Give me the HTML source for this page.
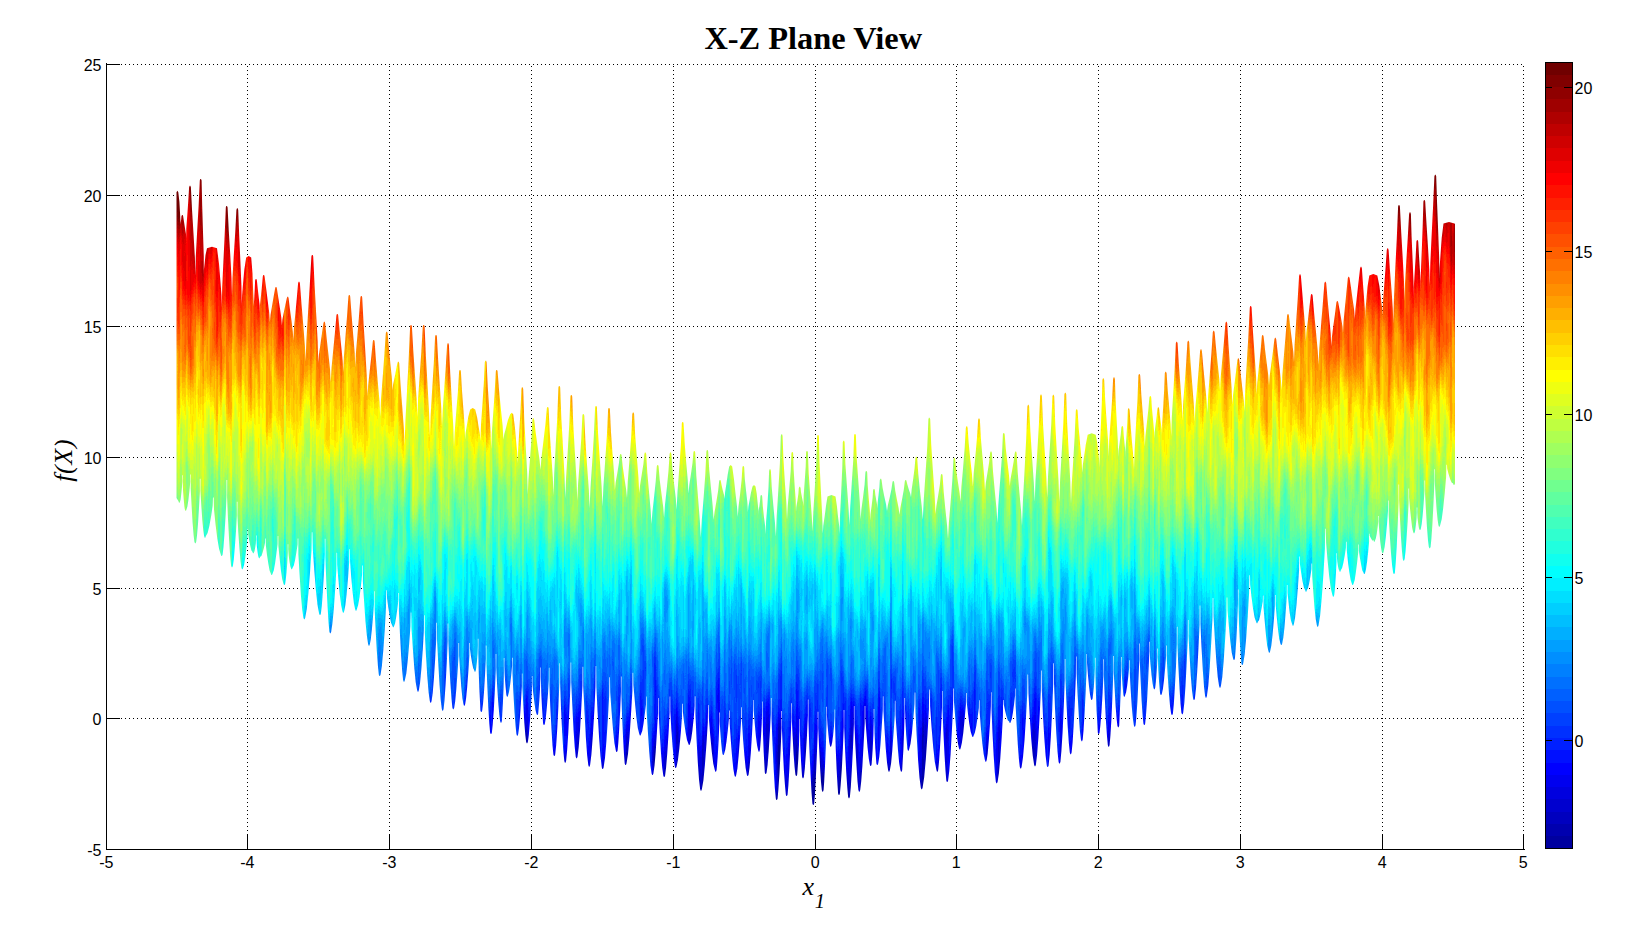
<!DOCTYPE html>
<html><head><meta charset="utf-8"><title>X-Z Plane View</title>
<style>
html,body{margin:0;padding:0;background:#fff;}
body{width:1632px;height:945px;overflow:hidden;position:relative;font-family:"Liberation Sans",sans-serif;}
svg{position:absolute;left:0;top:0;display:block;}
.tk{font-family:"Liberation Sans",sans-serif;font-size:16px;fill:#000;}
.ttl{font-family:"Liberation Serif",serif;font-weight:bold;font-size:32.4px;fill:#000;}
.lab{font-family:"Liberation Serif",serif;font-style:italic;font-size:26px;fill:#000;}
</style></head><body>
<svg width="1632" height="945" viewBox="0 0 1632 945">
<defs>
<linearGradient id="jet" gradientUnits="userSpaceOnUse" x1="0" y1="175.18" x2="0" y2="805.54"><stop offset="0.00000" stop-color="#700000"/><stop offset="0.01562" stop-color="#700000"/><stop offset="0.01562" stop-color="#800000"/><stop offset="0.03125" stop-color="#800000"/><stop offset="0.03125" stop-color="#8f0000"/><stop offset="0.04688" stop-color="#8f0000"/><stop offset="0.04688" stop-color="#9f0000"/><stop offset="0.06250" stop-color="#9f0000"/><stop offset="0.06250" stop-color="#af0000"/><stop offset="0.07812" stop-color="#af0000"/><stop offset="0.07812" stop-color="#bf0000"/><stop offset="0.09375" stop-color="#bf0000"/><stop offset="0.09375" stop-color="#cf0000"/><stop offset="0.10938" stop-color="#cf0000"/><stop offset="0.10938" stop-color="#df0000"/><stop offset="0.12500" stop-color="#df0000"/><stop offset="0.12500" stop-color="#ef0000"/><stop offset="0.14062" stop-color="#ef0000"/><stop offset="0.14062" stop-color="#ff0000"/><stop offset="0.15625" stop-color="#ff0000"/><stop offset="0.15625" stop-color="#ff1000"/><stop offset="0.17188" stop-color="#ff1000"/><stop offset="0.17188" stop-color="#ff2000"/><stop offset="0.18750" stop-color="#ff2000"/><stop offset="0.18750" stop-color="#ff3000"/><stop offset="0.20312" stop-color="#ff3000"/><stop offset="0.20312" stop-color="#ff4000"/><stop offset="0.21875" stop-color="#ff4000"/><stop offset="0.21875" stop-color="#ff5000"/><stop offset="0.23438" stop-color="#ff5000"/><stop offset="0.23438" stop-color="#ff6000"/><stop offset="0.25000" stop-color="#ff6000"/><stop offset="0.25000" stop-color="#ff7000"/><stop offset="0.26562" stop-color="#ff7000"/><stop offset="0.26562" stop-color="#ff8000"/><stop offset="0.28125" stop-color="#ff8000"/><stop offset="0.28125" stop-color="#ff8f00"/><stop offset="0.29688" stop-color="#ff8f00"/><stop offset="0.29688" stop-color="#ff9f00"/><stop offset="0.31250" stop-color="#ff9f00"/><stop offset="0.31250" stop-color="#ffaf00"/><stop offset="0.32812" stop-color="#ffaf00"/><stop offset="0.32812" stop-color="#ffbf00"/><stop offset="0.34375" stop-color="#ffbf00"/><stop offset="0.34375" stop-color="#ffcf00"/><stop offset="0.35938" stop-color="#ffcf00"/><stop offset="0.35938" stop-color="#ffdf00"/><stop offset="0.37500" stop-color="#ffdf00"/><stop offset="0.37500" stop-color="#ffef00"/><stop offset="0.39062" stop-color="#ffef00"/><stop offset="0.39062" stop-color="#ffff00"/><stop offset="0.40625" stop-color="#ffff00"/><stop offset="0.40625" stop-color="#efff10"/><stop offset="0.42188" stop-color="#efff10"/><stop offset="0.42188" stop-color="#dfff20"/><stop offset="0.43750" stop-color="#dfff20"/><stop offset="0.43750" stop-color="#cfff30"/><stop offset="0.45312" stop-color="#cfff30"/><stop offset="0.45312" stop-color="#bfff40"/><stop offset="0.46875" stop-color="#bfff40"/><stop offset="0.46875" stop-color="#afff50"/><stop offset="0.48438" stop-color="#afff50"/><stop offset="0.48438" stop-color="#9fff60"/><stop offset="0.50000" stop-color="#9fff60"/><stop offset="0.50000" stop-color="#8fff70"/><stop offset="0.51562" stop-color="#8fff70"/><stop offset="0.51562" stop-color="#80ff80"/><stop offset="0.53125" stop-color="#80ff80"/><stop offset="0.53125" stop-color="#70ff8f"/><stop offset="0.54688" stop-color="#70ff8f"/><stop offset="0.54688" stop-color="#60ff9f"/><stop offset="0.56250" stop-color="#60ff9f"/><stop offset="0.56250" stop-color="#50ffaf"/><stop offset="0.57812" stop-color="#50ffaf"/><stop offset="0.57812" stop-color="#40ffbf"/><stop offset="0.59375" stop-color="#40ffbf"/><stop offset="0.59375" stop-color="#30ffcf"/><stop offset="0.60938" stop-color="#30ffcf"/><stop offset="0.60938" stop-color="#20ffdf"/><stop offset="0.62500" stop-color="#20ffdf"/><stop offset="0.62500" stop-color="#10ffef"/><stop offset="0.64062" stop-color="#10ffef"/><stop offset="0.64062" stop-color="#00ffff"/><stop offset="0.65625" stop-color="#00ffff"/><stop offset="0.65625" stop-color="#00efff"/><stop offset="0.67188" stop-color="#00efff"/><stop offset="0.67188" stop-color="#00dfff"/><stop offset="0.68750" stop-color="#00dfff"/><stop offset="0.68750" stop-color="#00cfff"/><stop offset="0.70312" stop-color="#00cfff"/><stop offset="0.70312" stop-color="#00bfff"/><stop offset="0.71875" stop-color="#00bfff"/><stop offset="0.71875" stop-color="#00afff"/><stop offset="0.73438" stop-color="#00afff"/><stop offset="0.73438" stop-color="#009fff"/><stop offset="0.75000" stop-color="#009fff"/><stop offset="0.75000" stop-color="#008fff"/><stop offset="0.76562" stop-color="#008fff"/><stop offset="0.76562" stop-color="#0080ff"/><stop offset="0.78125" stop-color="#0080ff"/><stop offset="0.78125" stop-color="#0070ff"/><stop offset="0.79688" stop-color="#0070ff"/><stop offset="0.79688" stop-color="#0060ff"/><stop offset="0.81250" stop-color="#0060ff"/><stop offset="0.81250" stop-color="#0050ff"/><stop offset="0.82812" stop-color="#0050ff"/><stop offset="0.82812" stop-color="#0040ff"/><stop offset="0.84375" stop-color="#0040ff"/><stop offset="0.84375" stop-color="#0030ff"/><stop offset="0.85938" stop-color="#0030ff"/><stop offset="0.85938" stop-color="#0020ff"/><stop offset="0.87500" stop-color="#0020ff"/><stop offset="0.87500" stop-color="#0010ff"/><stop offset="0.89062" stop-color="#0010ff"/><stop offset="0.89062" stop-color="#0000ff"/><stop offset="0.90625" stop-color="#0000ff"/><stop offset="0.90625" stop-color="#0000ef"/><stop offset="0.92188" stop-color="#0000ef"/><stop offset="0.92188" stop-color="#0000df"/><stop offset="0.93750" stop-color="#0000df"/><stop offset="0.93750" stop-color="#0000cf"/><stop offset="0.95312" stop-color="#0000cf"/><stop offset="0.95312" stop-color="#0000bf"/><stop offset="0.96875" stop-color="#0000bf"/><stop offset="0.96875" stop-color="#0000af"/><stop offset="0.98438" stop-color="#0000af"/><stop offset="0.98438" stop-color="#00009f"/><stop offset="1.00000" stop-color="#00009f"/></linearGradient>
<linearGradient id="jo" x1="0" y1="0" x2="0" y2="1"><stop offset="0.24390" stop-color="#700000"/><stop offset="0.25191" stop-color="#700000"/><stop offset="0.25191" stop-color="#800000"/><stop offset="0.25992" stop-color="#800000"/><stop offset="0.25992" stop-color="#8f0000"/><stop offset="0.26793" stop-color="#8f0000"/><stop offset="0.26793" stop-color="#9f0000"/><stop offset="0.27593" stop-color="#9f0000"/><stop offset="0.27593" stop-color="#af0000"/><stop offset="0.28394" stop-color="#af0000"/><stop offset="0.28394" stop-color="#bf0000"/><stop offset="0.29195" stop-color="#bf0000"/><stop offset="0.29195" stop-color="#cf0000"/><stop offset="0.29996" stop-color="#cf0000"/><stop offset="0.29996" stop-color="#df0000"/><stop offset="0.30796" stop-color="#df0000"/><stop offset="0.30796" stop-color="#ef0000"/><stop offset="0.31597" stop-color="#ef0000"/><stop offset="0.31597" stop-color="#ff0000"/><stop offset="0.32398" stop-color="#ff0000"/><stop offset="0.32398" stop-color="#ff1000"/><stop offset="0.33199" stop-color="#ff1000"/><stop offset="0.33199" stop-color="#ff2000"/><stop offset="0.33999" stop-color="#ff2000"/><stop offset="0.33999" stop-color="#ff3000"/><stop offset="0.34800" stop-color="#ff3000"/><stop offset="0.34800" stop-color="#ff4000"/><stop offset="0.35601" stop-color="#ff4000"/><stop offset="0.35601" stop-color="#ff5000"/><stop offset="0.36402" stop-color="#ff5000"/><stop offset="0.36402" stop-color="#ff6000"/><stop offset="0.37202" stop-color="#ff6000"/><stop offset="0.37202" stop-color="#ff7000"/><stop offset="0.38003" stop-color="#ff7000"/><stop offset="0.38003" stop-color="#ff8000"/><stop offset="0.38804" stop-color="#ff8000"/><stop offset="0.38804" stop-color="#ff8f00"/><stop offset="0.39605" stop-color="#ff8f00"/><stop offset="0.39605" stop-color="#ff9f00"/><stop offset="0.40405" stop-color="#ff9f00"/><stop offset="0.40405" stop-color="#ffaf00"/><stop offset="0.41206" stop-color="#ffaf00"/><stop offset="0.41206" stop-color="#ffbf00"/><stop offset="0.42007" stop-color="#ffbf00"/><stop offset="0.42007" stop-color="#ffcf00"/><stop offset="0.42808" stop-color="#ffcf00"/><stop offset="0.42808" stop-color="#ffdf00"/><stop offset="0.43608" stop-color="#ffdf00"/><stop offset="0.43608" stop-color="#ffef00"/><stop offset="0.44409" stop-color="#ffef00"/><stop offset="0.44409" stop-color="#ffff00"/><stop offset="0.45210" stop-color="#ffff00"/><stop offset="0.45210" stop-color="#efff10"/><stop offset="0.46011" stop-color="#efff10"/><stop offset="0.46011" stop-color="#dfff20"/><stop offset="0.46811" stop-color="#dfff20"/><stop offset="0.46811" stop-color="#cfff30"/><stop offset="0.47612" stop-color="#cfff30"/><stop offset="0.47612" stop-color="#bfff40"/><stop offset="0.48413" stop-color="#bfff40"/><stop offset="0.48413" stop-color="#afff50"/><stop offset="0.49214" stop-color="#afff50"/><stop offset="0.49214" stop-color="#9fff60"/><stop offset="0.50014" stop-color="#9fff60"/><stop offset="0.50014" stop-color="#8fff70"/><stop offset="0.50815" stop-color="#8fff70"/><stop offset="0.50815" stop-color="#80ff80"/><stop offset="0.51616" stop-color="#80ff80"/><stop offset="0.51616" stop-color="#70ff8f"/><stop offset="0.52417" stop-color="#70ff8f"/><stop offset="0.52417" stop-color="#60ff9f"/><stop offset="0.53217" stop-color="#60ff9f"/><stop offset="0.53217" stop-color="#50ffaf"/><stop offset="0.54018" stop-color="#50ffaf"/><stop offset="0.54018" stop-color="#40ffbf"/><stop offset="0.54819" stop-color="#40ffbf"/><stop offset="0.54819" stop-color="#30ffcf"/><stop offset="0.55620" stop-color="#30ffcf"/><stop offset="0.55620" stop-color="#20ffdf"/><stop offset="0.56420" stop-color="#20ffdf"/><stop offset="0.56420" stop-color="#10ffef"/><stop offset="0.57221" stop-color="#10ffef"/><stop offset="0.57221" stop-color="#00ffff"/><stop offset="0.58022" stop-color="#00ffff"/><stop offset="0.58022" stop-color="#00efff"/><stop offset="0.58823" stop-color="#00efff"/><stop offset="0.58823" stop-color="#00dfff"/><stop offset="0.59624" stop-color="#00dfff"/><stop offset="0.59624" stop-color="#00cfff"/><stop offset="0.60424" stop-color="#00cfff"/><stop offset="0.60424" stop-color="#00bfff"/><stop offset="0.61225" stop-color="#00bfff"/><stop offset="0.61225" stop-color="#00afff"/><stop offset="0.62026" stop-color="#00afff"/><stop offset="0.62026" stop-color="#009fff"/><stop offset="0.62827" stop-color="#009fff"/><stop offset="0.62827" stop-color="#008fff"/><stop offset="0.63627" stop-color="#008fff"/><stop offset="0.63627" stop-color="#0080ff"/><stop offset="0.64428" stop-color="#0080ff"/><stop offset="0.64428" stop-color="#0070ff"/><stop offset="0.65229" stop-color="#0070ff"/><stop offset="0.65229" stop-color="#0060ff"/><stop offset="0.66030" stop-color="#0060ff"/><stop offset="0.66030" stop-color="#0050ff"/><stop offset="0.66830" stop-color="#0050ff"/><stop offset="0.66830" stop-color="#0040ff"/><stop offset="0.67631" stop-color="#0040ff"/><stop offset="0.67631" stop-color="#0030ff"/><stop offset="0.68432" stop-color="#0030ff"/><stop offset="0.68432" stop-color="#0020ff"/><stop offset="0.69233" stop-color="#0020ff"/><stop offset="0.69233" stop-color="#0010ff"/><stop offset="0.70033" stop-color="#0010ff"/><stop offset="0.70033" stop-color="#0000ff"/><stop offset="0.70834" stop-color="#0000ff"/><stop offset="0.70834" stop-color="#0000ef"/><stop offset="0.71635" stop-color="#0000ef"/><stop offset="0.71635" stop-color="#0000df"/><stop offset="0.72436" stop-color="#0000df"/><stop offset="0.72436" stop-color="#0000cf"/><stop offset="0.73236" stop-color="#0000cf"/><stop offset="0.73236" stop-color="#0000bf"/><stop offset="0.74037" stop-color="#0000bf"/><stop offset="0.74037" stop-color="#0000af"/><stop offset="0.74838" stop-color="#0000af"/><stop offset="0.74838" stop-color="#00009f"/><stop offset="0.75639" stop-color="#00009f"/></linearGradient>
<linearGradient id="jetcb" gradientUnits="userSpaceOnUse" x1="0" y1="62.5" x2="0" y2="848.5"><stop offset="0.00000" stop-color="#700000"/><stop offset="0.01562" stop-color="#700000"/><stop offset="0.01562" stop-color="#800000"/><stop offset="0.03125" stop-color="#800000"/><stop offset="0.03125" stop-color="#8f0000"/><stop offset="0.04688" stop-color="#8f0000"/><stop offset="0.04688" stop-color="#9f0000"/><stop offset="0.06250" stop-color="#9f0000"/><stop offset="0.06250" stop-color="#af0000"/><stop offset="0.07812" stop-color="#af0000"/><stop offset="0.07812" stop-color="#bf0000"/><stop offset="0.09375" stop-color="#bf0000"/><stop offset="0.09375" stop-color="#cf0000"/><stop offset="0.10938" stop-color="#cf0000"/><stop offset="0.10938" stop-color="#df0000"/><stop offset="0.12500" stop-color="#df0000"/><stop offset="0.12500" stop-color="#ef0000"/><stop offset="0.14062" stop-color="#ef0000"/><stop offset="0.14062" stop-color="#ff0000"/><stop offset="0.15625" stop-color="#ff0000"/><stop offset="0.15625" stop-color="#ff1000"/><stop offset="0.17188" stop-color="#ff1000"/><stop offset="0.17188" stop-color="#ff2000"/><stop offset="0.18750" stop-color="#ff2000"/><stop offset="0.18750" stop-color="#ff3000"/><stop offset="0.20312" stop-color="#ff3000"/><stop offset="0.20312" stop-color="#ff4000"/><stop offset="0.21875" stop-color="#ff4000"/><stop offset="0.21875" stop-color="#ff5000"/><stop offset="0.23438" stop-color="#ff5000"/><stop offset="0.23438" stop-color="#ff6000"/><stop offset="0.25000" stop-color="#ff6000"/><stop offset="0.25000" stop-color="#ff7000"/><stop offset="0.26562" stop-color="#ff7000"/><stop offset="0.26562" stop-color="#ff8000"/><stop offset="0.28125" stop-color="#ff8000"/><stop offset="0.28125" stop-color="#ff8f00"/><stop offset="0.29688" stop-color="#ff8f00"/><stop offset="0.29688" stop-color="#ff9f00"/><stop offset="0.31250" stop-color="#ff9f00"/><stop offset="0.31250" stop-color="#ffaf00"/><stop offset="0.32812" stop-color="#ffaf00"/><stop offset="0.32812" stop-color="#ffbf00"/><stop offset="0.34375" stop-color="#ffbf00"/><stop offset="0.34375" stop-color="#ffcf00"/><stop offset="0.35938" stop-color="#ffcf00"/><stop offset="0.35938" stop-color="#ffdf00"/><stop offset="0.37500" stop-color="#ffdf00"/><stop offset="0.37500" stop-color="#ffef00"/><stop offset="0.39062" stop-color="#ffef00"/><stop offset="0.39062" stop-color="#ffff00"/><stop offset="0.40625" stop-color="#ffff00"/><stop offset="0.40625" stop-color="#efff10"/><stop offset="0.42188" stop-color="#efff10"/><stop offset="0.42188" stop-color="#dfff20"/><stop offset="0.43750" stop-color="#dfff20"/><stop offset="0.43750" stop-color="#cfff30"/><stop offset="0.45312" stop-color="#cfff30"/><stop offset="0.45312" stop-color="#bfff40"/><stop offset="0.46875" stop-color="#bfff40"/><stop offset="0.46875" stop-color="#afff50"/><stop offset="0.48438" stop-color="#afff50"/><stop offset="0.48438" stop-color="#9fff60"/><stop offset="0.50000" stop-color="#9fff60"/><stop offset="0.50000" stop-color="#8fff70"/><stop offset="0.51562" stop-color="#8fff70"/><stop offset="0.51562" stop-color="#80ff80"/><stop offset="0.53125" stop-color="#80ff80"/><stop offset="0.53125" stop-color="#70ff8f"/><stop offset="0.54688" stop-color="#70ff8f"/><stop offset="0.54688" stop-color="#60ff9f"/><stop offset="0.56250" stop-color="#60ff9f"/><stop offset="0.56250" stop-color="#50ffaf"/><stop offset="0.57812" stop-color="#50ffaf"/><stop offset="0.57812" stop-color="#40ffbf"/><stop offset="0.59375" stop-color="#40ffbf"/><stop offset="0.59375" stop-color="#30ffcf"/><stop offset="0.60938" stop-color="#30ffcf"/><stop offset="0.60938" stop-color="#20ffdf"/><stop offset="0.62500" stop-color="#20ffdf"/><stop offset="0.62500" stop-color="#10ffef"/><stop offset="0.64062" stop-color="#10ffef"/><stop offset="0.64062" stop-color="#00ffff"/><stop offset="0.65625" stop-color="#00ffff"/><stop offset="0.65625" stop-color="#00efff"/><stop offset="0.67188" stop-color="#00efff"/><stop offset="0.67188" stop-color="#00dfff"/><stop offset="0.68750" stop-color="#00dfff"/><stop offset="0.68750" stop-color="#00cfff"/><stop offset="0.70312" stop-color="#00cfff"/><stop offset="0.70312" stop-color="#00bfff"/><stop offset="0.71875" stop-color="#00bfff"/><stop offset="0.71875" stop-color="#00afff"/><stop offset="0.73438" stop-color="#00afff"/><stop offset="0.73438" stop-color="#009fff"/><stop offset="0.75000" stop-color="#009fff"/><stop offset="0.75000" stop-color="#008fff"/><stop offset="0.76562" stop-color="#008fff"/><stop offset="0.76562" stop-color="#0080ff"/><stop offset="0.78125" stop-color="#0080ff"/><stop offset="0.78125" stop-color="#0070ff"/><stop offset="0.79688" stop-color="#0070ff"/><stop offset="0.79688" stop-color="#0060ff"/><stop offset="0.81250" stop-color="#0060ff"/><stop offset="0.81250" stop-color="#0050ff"/><stop offset="0.82812" stop-color="#0050ff"/><stop offset="0.82812" stop-color="#0040ff"/><stop offset="0.84375" stop-color="#0040ff"/><stop offset="0.84375" stop-color="#0030ff"/><stop offset="0.85938" stop-color="#0030ff"/><stop offset="0.85938" stop-color="#0020ff"/><stop offset="0.87500" stop-color="#0020ff"/><stop offset="0.87500" stop-color="#0010ff"/><stop offset="0.89062" stop-color="#0010ff"/><stop offset="0.89062" stop-color="#0000ff"/><stop offset="0.90625" stop-color="#0000ff"/><stop offset="0.90625" stop-color="#0000ef"/><stop offset="0.92188" stop-color="#0000ef"/><stop offset="0.92188" stop-color="#0000df"/><stop offset="0.93750" stop-color="#0000df"/><stop offset="0.93750" stop-color="#0000cf"/><stop offset="0.95312" stop-color="#0000cf"/><stop offset="0.95312" stop-color="#0000bf"/><stop offset="0.96875" stop-color="#0000bf"/><stop offset="0.96875" stop-color="#0000af"/><stop offset="0.98438" stop-color="#0000af"/><stop offset="0.98438" stop-color="#00009f"/><stop offset="1.00000" stop-color="#00009f"/></linearGradient>
<filter id="tex" filterUnits="userSpaceOnUse" x="150" y="60" width="1330" height="860" color-interpolation-filters="sRGB">
<feTurbulence type="fractalNoise" baseFrequency="0.13 0.013" numOctaves="3" seed="11" result="n"/>
<feColorMatrix in="n" type="matrix" values="1 0 0 0 0  0 0 0 0 0.5  0 0 0 0 0  0 0 0 0 1" result="m"/>
<feDisplacementMap in="SourceGraphic" in2="m" scale="120" xChannelSelector="G" yChannelSelector="R"/>
</filter>
<clipPath id="env"><path shape-rendering="crispEdges" d="M176.5,190.7 L176.5,192.2 L177.4,190.7 L178.3,192.2 L179.4,201.8 L180.0,212.5 L180.5,222.4 L180.3,230.3 L180.1,227.3 L180.6,223.4 L181.2,219.3 L181.4,216.6 L182.0,215.0 L182.7,215.0 L183.2,216.6 L184.0,221.7 L185.0,228.3 L186.0,234.3 L186.2,239.1 L186.3,228.4 L187.3,215.1 L188.3,200.7 L189.1,187.3 L189.7,185.7 L190.3,185.7 L190.9,187.3 L192.1,210.9 L193.6,235.3 L194.9,257.8 L195.3,275.8 L195.8,256.4 L197.1,232.2 L198.6,206.1 L199.8,180.6 L200.3,179.0 L201.0,179.0 L201.6,180.6 L202.2,206.1 L203.0,232.3 L203.8,256.5 L203.8,275.9 L203.9,270.1 L204.7,262.8 L205.5,254.9 L207.0,248.2 L212.0,246.7 L217.0,248.2 L219.0,263.7 L220.3,280.1 L221.5,295.2 L221.8,307.4 L222.2,287.1 L223.4,261.8 L224.7,234.4 L225.8,207.6 L226.3,206.0 L227.0,206.0 L227.6,207.6 L228.8,231.2 L230.3,255.4 L231.5,277.9 L232.0,295.9 L232.5,278.3 L233.7,256.5 L235.2,232.8 L236.4,209.9 L237.0,208.3 L237.7,208.3 L238.2,209.9 L239.2,235.4 L240.4,261.5 L241.4,285.7 L241.8,305.1 L242.1,295.3 L243.1,283.0 L244.3,269.8 L246.2,257.5 L248.7,256.0 L251.2,257.5 L252.5,273.3 L253.1,289.9 L253.7,305.3 L253.6,317.7 L253.5,309.9 L254.1,300.3 L254.7,289.8 L255.1,280.6 L255.7,279.0 L256.4,279.0 L256.9,280.6 L257.7,288.3 L258.7,297.3 L259.7,305.6 L259.9,312.2 L260.0,304.8 L261.0,295.5 L262.0,285.4 L262.8,276.6 L263.3,275.0 L264.1,275.0 L264.6,276.6 L266.1,288.1 L267.7,300.8 L269.2,312.5 L269.9,321.9 L270.5,314.9 L272.0,306.2 L273.6,296.8 L275.1,288.6 L275.6,287.0 L276.4,287.0 L276.9,288.6 L278.3,297.7 L279.9,308.0 L281.3,317.6 L281.9,325.2 L282.4,319.5 L283.8,312.4 L285.4,304.7 L286.8,298.3 L287.3,296.7 L288.1,296.7 L288.6,298.3 L289.9,309.0 L291.5,320.8 L292.8,331.8 L293.4,340.6 L293.9,328.8 L295.3,314.1 L296.8,298.2 L298.1,283.3 L298.6,281.7 L299.4,281.7 L299.9,283.3 L301.5,304.0 L303.3,325.6 L304.9,345.5 L305.6,361.5 L306.4,340.2 L308.0,313.6 L309.8,284.8 L311.4,256.6 L311.9,255.0 L312.7,255.0 L313.2,256.6 L314.6,285.2 L316.2,314.4 L317.7,341.4 L318.3,363.0 L318.9,354.8 L320.4,344.4 L322.0,333.3 L323.4,323.3 L323.9,321.7 L324.7,321.7 L325.2,323.3 L326.7,338.7 L328.5,355.0 L330.1,370.1 L330.8,382.2 L331.5,368.6 L333.1,351.5 L334.9,333.1 L336.4,315.6 L336.9,314.0 L337.7,314.0 L338.2,315.6 L339.6,330.3 L341.2,346.0 L342.7,360.6 L343.3,372.3 L343.9,356.8 L345.4,337.5 L347.0,316.6 L348.4,296.6 L348.9,295.0 L349.7,295.0 L350.2,296.6 L351.6,315.3 L353.2,334.9 L354.7,353.1 L355.3,367.6 L355.9,353.3 L357.4,335.4 L359.0,316.1 L360.4,297.6 L360.9,296.0 L361.7,296.0 L362.2,297.6 L363.6,324.1 L365.3,351.1 L366.8,376.2 L367.5,396.2 L368.2,385.0 L369.7,370.9 L371.4,355.7 L372.8,341.6 L373.3,340.0 L374.1,340.0 L374.6,341.6 L376.1,361.5 L377.8,382.3 L379.5,401.5 L380.2,416.8 L381.0,399.8 L382.6,378.5 L384.3,355.5 L385.8,333.3 L386.3,331.7 L387.1,331.7 L387.6,333.3 L388.9,348.1 L390.4,363.9 L391.9,378.6 L392.5,390.3 L393.1,384.6 L394.6,377.4 L396.1,369.7 L397.4,363.3 L397.9,361.7 L398.7,361.7 L399.2,363.3 L400.6,385.1 L402.3,407.6 L403.9,428.5 L404.6,445.2 L405.4,421.2 L407.0,391.1 L408.7,358.7 L410.1,326.6 L410.6,325.0 L411.4,325.0 L411.9,326.6 L413.3,350.7 L415.0,375.5 L416.6,398.5 L417.4,416.9 L418.1,398.5 L419.7,375.5 L421.4,350.7 L422.8,326.6 L423.3,325.0 L424.1,325.0 L424.6,326.6 L425.9,356.0 L427.6,385.9 L429.1,413.5 L429.9,435.7 L430.6,415.5 L432.1,390.4 L433.8,363.2 L435.1,336.6 L435.6,335.0 L436.4,335.0 L436.9,336.6 L438.2,360.7 L439.8,385.4 L441.3,408.3 L442.0,426.6 L442.7,410.0 L444.2,389.1 L445.8,366.6 L447.1,344.9 L447.6,343.3 L448.4,343.3 L448.9,344.9 L450.2,372.4 L451.8,400.5 L453.3,426.5 L454.0,447.3 L454.7,431.8 L456.2,412.5 L457.9,391.6 L459.1,371.6 L459.6,370.0 L460.4,370.0 L460.9,371.6 L461.9,389.4 L463.3,408.1 L464.6,425.4 L465.1,439.2 L465.6,433.0 L466.9,425.2 L468.3,416.7 L470.2,409.5 L472.7,408.0 L475.2,409.5 L477.1,417.2 L478.5,426.1 L479.9,434.3 L480.4,440.9 L481.0,424.9 L482.4,404.8 L483.8,383.2 L484.8,362.3 L485.3,360.7 L486.1,360.7 L486.6,362.3 L487.7,385.4 L489.2,409.3 L490.6,431.4 L491.2,449.1 L491.8,433.2 L493.2,413.5 L494.7,392.1 L495.8,371.6 L496.3,370.0 L497.1,370.0 L497.6,371.6 L499.0,389.4 L500.8,408.2 L502.6,425.5 L503.4,439.4 L504.3,434.1 L506.1,427.4 L507.9,420.2 L510.2,414.2 L511.7,412.7 L513.2,414.2 L514.9,426.9 L516.1,440.7 L517.3,453.4 L517.8,463.6 L518.2,448.3 L519.4,429.2 L520.6,408.7 L521.4,388.9 L521.9,387.3 L522.6,387.3 L523.2,388.9 L524.2,417.4 L525.7,446.3 L527.2,473.2 L527.8,494.6 L528.4,479.4 L529.9,460.3 L531.4,439.7 L532.4,419.9 L532.9,418.3 L533.6,418.3 L534.2,419.9 L535.7,432.7 L537.6,446.6 L539.5,459.5 L540.5,469.8 L541.5,457.3 L543.4,441.6 L545.4,424.6 L546.8,408.6 L547.4,407.0 L548.1,407.0 L548.6,408.6 L549.7,431.7 L551.3,455.5 L552.8,477.6 L553.5,495.2 L554.2,473.4 L555.7,446.1 L557.3,416.6 L558.4,387.6 L558.9,386.0 L559.6,386.0 L560.2,387.6 L561.3,417.5 L563.0,447.8 L564.5,475.9 L565.3,498.4 L566.1,477.7 L567.7,451.8 L569.3,423.9 L570.4,396.6 L570.9,395.0 L571.6,395.0 L572.2,396.6 L573.3,424.7 L574.9,453.3 L576.5,479.9 L577.3,501.1 L578.1,483.7 L579.7,461.9 L581.3,438.4 L582.4,415.6 L582.9,414.0 L583.6,414.0 L584.2,415.6 L585.4,440.4 L587.1,465.8 L588.8,489.3 L589.6,508.2 L590.5,487.7 L592.2,462.2 L593.9,434.6 L595.1,407.6 L595.6,406.0 L596.4,406.0 L596.9,407.6 L598.1,434.1 L599.9,461.2 L601.6,486.3 L602.5,506.4 L603.4,486.7 L605.1,462.1 L606.9,435.5 L608.1,409.6 L608.6,408.0 L609.4,408.0 L609.9,409.6 L610.9,431.0 L612.5,453.1 L614.1,473.6 L614.9,490.0 L615.6,482.8 L617.2,473.8 L618.8,464.1 L619.8,455.6 L620.4,454.0 L621.1,454.0 L621.6,455.6 L622.7,466.3 L624.4,478.2 L626.1,489.2 L627.0,498.0 L627.8,480.9 L629.5,459.5 L631.2,436.4 L632.3,414.1 L632.9,412.5 L633.6,412.5 L634.1,414.1 L635.2,435.1 L636.8,456.8 L638.4,476.9 L639.2,493.0 L640.1,484.9 L641.7,474.8 L643.4,463.9 L644.4,454.1 L644.9,452.5 L645.6,452.5 L646.2,454.1 L647.3,472.5 L649.0,491.8 L650.6,509.6 L651.5,523.9 L652.4,512.1 L654.0,497.4 L655.7,481.5 L656.8,466.6 L657.4,465.0 L658.1,465.0 L658.6,466.6 L659.7,479.7 L661.5,494.0 L663.2,507.1 L664.1,517.7 L665.0,504.6 L666.8,488.3 L668.5,470.7 L669.6,454.1 L670.1,452.5 L670.9,452.5 L671.4,454.1 L672.4,468.5 L674.1,484.0 L675.8,498.3 L676.6,509.8 L677.5,492.2 L679.1,470.3 L680.8,446.6 L681.8,423.6 L682.4,422.0 L683.1,422.0 L683.6,423.6 L684.6,442.0 L686.1,461.3 L687.7,479.2 L688.5,493.5 L689.3,485.0 L690.9,474.4 L692.5,462.9 L693.4,452.6 L693.9,451.0 L694.6,451.0 L695.2,452.6 L696.3,475.2 L698.1,498.6 L699.8,520.2 L700.8,537.5 L701.8,520.0 L703.6,498.1 L705.3,474.5 L706.4,451.6 L706.9,450.0 L707.6,450.0 L708.2,451.6 L709.2,469.5 L711.0,488.4 L712.7,505.9 L713.6,519.8 L714.6,511.9 L716.3,501.9 L718.1,491.1 L719.1,481.6 L719.6,480.0 L720.4,480.0 L720.9,481.6 L721.6,485.3 L722.8,490.4 L724.1,495.2 L724.6,499.0 L725.1,492.2 L726.4,483.7 L727.7,474.5 L729.2,466.5 L730.7,465.0 L732.2,466.5 L734.0,479.5 L735.5,493.5 L737.0,506.5 L737.8,516.8 L738.5,506.7 L740.1,493.9 L741.6,480.2 L742.4,467.6 L742.9,466.0 L743.6,466.0 L744.2,467.6 L744.8,478.9 L746.1,491.3 L747.4,502.8 L747.9,511.9 L748.4,506.6 L749.7,499.8 L751.0,492.5 L752.5,486.5 L754.0,485.0 L755.5,486.5 L756.7,493.4 L757.5,501.6 L758.3,509.1 L758.4,515.1 L758.5,511.1 L759.4,506.1 L760.1,500.6 L760.4,496.6 L760.9,495.0 L761.6,495.0 L762.2,496.6 L762.8,506.0 L763.9,516.6 L765.2,526.4 L765.6,534.3 L766.1,521.3 L767.4,505.0 L768.5,487.5 L769.1,470.9 L769.6,469.3 L770.4,469.3 L770.9,470.9 L771.8,488.2 L773.4,506.3 L775.0,523.2 L775.9,536.6 L776.7,516.2 L778.3,490.6 L779.9,463.0 L780.8,435.9 L781.4,434.3 L782.1,434.3 L782.6,435.9 L783.4,458.2 L784.8,481.3 L786.3,502.6 L787.0,519.7 L787.7,506.2 L789.2,489.2 L790.7,471.0 L791.4,453.6 L791.9,452.0 L792.6,452.0 L793.2,453.6 L793.6,468.8 L794.6,485.1 L795.7,500.1 L796.0,512.1 L796.3,507.0 L797.4,500.7 L798.4,493.8 L798.8,488.3 L799.4,486.7 L800.1,486.7 L800.6,488.3 L801.0,492.2 L802.0,497.4 L803.0,502.3 L803.4,506.2 L803.7,495.2 L804.7,481.4 L805.7,466.5 L806.1,452.6 L806.6,451.0 L807.4,451.0 L807.9,452.6 L808.7,473.5 L810.2,495.2 L811.7,515.2 L812.5,531.3 L813.3,512.0 L814.8,488.0 L816.3,462.0 L817.1,436.6 L817.6,435.0 L818.4,435.0 L818.9,436.6 L819.5,462.6 L820.8,489.1 L822.1,513.7 L822.8,533.4 L823.3,525.7 L824.7,516.1 L826.0,505.8 L827.5,496.5 L831.5,495.0 L835.5,496.5 L836.9,505.9 L838.0,516.4 L839.2,526.1 L839.6,533.9 L840.0,515.3 L841.2,492.0 L842.3,466.8 L842.8,442.3 L843.4,440.7 L844.1,440.7 L844.6,442.3 L845.4,464.3 L847.0,487.1 L848.5,508.3 L849.4,525.1 L850.2,506.9 L851.7,484.1 L853.3,459.5 L854.1,435.6 L854.6,434.0 L855.4,434.0 L855.9,435.6 L856.7,457.9 L858.3,480.9 L859.8,502.2 L860.6,519.3 L861.4,509.6 L863.0,497.5 L864.6,484.5 L865.4,472.6 L865.9,471.0 L866.6,471.0 L867.2,472.6 L867.7,484.9 L868.7,498.2 L869.8,510.6 L870.1,520.5 L870.5,514.2 L871.6,506.3 L872.6,497.8 L873.1,490.6 L873.6,489.0 L874.4,489.0 L874.9,490.6 L875.3,494.5 L876.2,499.9 L877.1,504.8 L877.4,508.7 L877.6,502.7 L878.5,495.2 L879.4,487.1 L879.8,480.3 L880.4,478.7 L881.1,478.7 L881.6,480.3 L882.6,487.8 L884.3,496.5 L886.1,504.6 L887.0,511.1 L887.9,505.1 L889.7,497.6 L891.4,489.4 L892.4,482.6 L892.9,481.0 L893.6,481.0 L894.2,482.6 L895.2,490.5 L896.9,499.6 L898.6,508.0 L899.5,514.8 L900.4,507.8 L902.1,499.1 L903.8,489.7 L904.8,481.6 L905.4,480.0 L906.1,480.0 L906.6,481.6 L907.4,484.8 L908.8,489.5 L910.3,493.8 L911.0,497.3 L911.7,489.2 L913.2,479.0 L914.6,468.1 L915.4,458.3 L915.9,456.7 L916.6,456.7 L917.2,458.3 L918.3,474.3 L920.0,491.3 L921.8,507.0 L922.8,519.6 L923.8,499.2 L925.5,473.7 L927.3,446.2 L928.4,419.3 L928.9,417.7 L929.6,417.7 L930.2,419.3 L931.2,444.6 L932.9,470.6 L934.6,494.7 L935.5,513.9 L936.4,505.9 L938.1,495.9 L939.8,485.2 L940.8,475.6 L941.4,474.0 L942.1,474.0 L942.6,475.6 L943.7,492.1 L945.4,509.6 L947.1,525.8 L948.0,538.8 L948.9,522.6 L950.6,502.3 L952.3,480.5 L953.4,459.4 L953.9,457.8 L954.6,457.8 L955.2,459.4 L956.2,470.1 L957.9,482.0 L959.6,493.0 L960.5,501.8 L961.4,486.7 L963.1,467.8 L964.7,447.4 L965.8,427.9 L966.4,426.3 L967.1,426.3 L967.6,427.9 L968.7,443.2 L970.3,459.5 L972.0,474.5 L972.9,486.6 L973.7,473.0 L975.4,456.0 L977.0,437.6 L978.1,420.1 L978.6,418.5 L979.4,418.5 L979.9,420.1 L980.9,438.8 L982.6,458.4 L984.2,476.5 L985.0,491.0 L985.8,483.1 L987.4,473.2 L989.1,462.6 L990.1,453.1 L990.6,451.5 L991.4,451.5 L991.9,453.1 L993.0,471.5 L994.8,490.9 L996.5,508.7 L997.4,523.1 L998.3,505.0 L1000.0,482.5 L1001.8,458.2 L1002.9,434.6 L1003.4,433.0 L1004.1,433.0 L1004.7,434.6 L1005.7,447.9 L1007.4,462.2 L1009.0,475.5 L1009.8,486.1 L1010.5,479.2 L1012.1,470.5 L1013.7,461.2 L1014.8,453.1 L1015.4,451.5 L1016.1,451.5 L1016.6,453.1 L1017.7,472.3 L1019.4,492.4 L1021.1,511.0 L1022.0,525.9 L1022.9,501.7 L1024.5,471.4 L1026.2,438.7 L1027.4,406.4 L1028.0,404.8 L1028.6,404.8 L1029.2,406.4 L1030.4,431.9 L1032.1,458.1 L1033.8,482.4 L1034.7,501.7 L1035.5,480.3 L1037.2,453.5 L1038.9,424.5 L1040.1,396.1 L1040.7,394.5 L1041.3,394.5 L1041.9,396.1 L1043.0,423.4 L1044.7,451.2 L1046.3,477.0 L1047.2,497.6 L1048.0,477.0 L1049.6,451.3 L1051.3,423.6 L1052.4,396.4 L1053.0,394.8 L1053.6,394.8 L1054.2,396.4 L1055.3,424.8 L1056.9,453.8 L1058.5,480.6 L1059.3,502.1 L1060.1,480.2 L1061.7,452.9 L1063.3,423.3 L1064.4,394.3 L1065.0,392.7 L1065.6,392.7 L1066.2,394.3 L1067.2,423.8 L1068.8,453.7 L1070.3,481.5 L1071.0,503.7 L1071.7,484.8 L1073.2,461.2 L1074.7,435.7 L1075.8,410.8 L1076.4,409.2 L1077.0,409.2 L1077.6,410.8 L1078.6,427.0 L1080.1,444.2 L1081.6,460.1 L1082.2,472.8 L1082.8,464.9 L1084.3,455.0 L1085.8,444.4 L1087.7,434.8 L1091.7,433.3 L1095.7,434.8 L1097.2,442.8 L1098.2,452.0 L1099.2,460.6 L1099.5,467.4 L1099.8,449.6 L1100.8,427.3 L1101.8,403.2 L1102.4,379.9 L1103.0,378.3 L1103.6,378.3 L1104.2,379.9 L1105.2,400.2 L1106.6,421.4 L1108.1,440.9 L1108.7,456.6 L1109.2,440.7 L1110.6,420.9 L1112.1,399.5 L1113.1,378.9 L1113.7,377.3 L1114.3,377.3 L1114.9,378.9 L1115.6,399.6 L1116.7,421.1 L1117.8,441.1 L1118.2,457.0 L1118.5,450.8 L1119.6,443.0 L1120.7,434.7 L1121.4,427.6 L1122.0,426.0 L1122.6,426.0 L1123.2,427.6 L1123.7,435.0 L1124.5,443.6 L1125.4,451.6 L1125.5,458.0 L1125.6,448.0 L1126.5,435.6 L1127.3,422.2 L1127.8,409.9 L1128.4,408.3 L1129.0,408.3 L1129.6,409.9 L1130.6,425.6 L1132.0,442.3 L1133.4,457.7 L1134.0,470.1 L1134.6,450.8 L1135.9,426.8 L1137.4,400.9 L1138.4,375.6 L1139.0,374.0 L1139.6,374.0 L1140.2,375.6 L1141.3,394.3 L1142.8,413.9 L1144.2,432.0 L1144.8,446.5 L1145.4,436.4 L1146.8,423.8 L1148.3,410.1 L1149.4,397.6 L1150.0,396.0 L1150.6,396.0 L1151.2,397.6 L1151.9,408.0 L1153.0,419.5 L1154.0,430.2 L1154.3,438.8 L1154.6,432.5 L1155.6,424.6 L1156.7,416.1 L1157.4,408.9 L1158.0,407.3 L1158.6,407.3 L1159.2,408.9 L1159.8,415.2 L1160.8,422.7 L1161.8,429.8 L1162.0,435.4 L1162.2,422.6 L1163.2,406.7 L1164.2,389.5 L1164.8,373.3 L1165.4,371.7 L1166.0,371.7 L1166.6,373.3 L1167.7,389.8 L1169.2,407.2 L1170.6,423.4 L1171.2,436.3 L1171.8,417.4 L1173.2,393.7 L1174.7,368.2 L1175.8,343.3 L1176.4,341.7 L1177.0,341.7 L1177.6,343.3 L1178.8,363.8 L1180.4,385.1 L1181.8,404.8 L1182.5,420.6 L1183.1,404.6 L1184.6,384.7 L1186.2,363.1 L1187.4,342.3 L1188.0,340.7 L1188.6,340.7 L1189.2,342.3 L1190.6,363.4 L1192.3,385.2 L1193.9,405.4 L1194.7,421.6 L1195.4,407.2 L1197.0,389.1 L1198.7,369.6 L1200.1,350.9 L1200.7,349.3 L1201.3,349.3 L1201.9,350.9 L1203.3,367.0 L1205.0,384.2 L1206.6,400.0 L1207.3,412.7 L1208.1,396.3 L1209.7,375.8 L1211.4,353.7 L1212.8,332.3 L1213.4,330.7 L1214.0,330.7 L1214.6,332.3 L1216.0,347.6 L1217.7,363.9 L1219.3,379.0 L1220.0,391.1 L1220.7,377.2 L1222.3,359.8 L1224.0,341.1 L1225.4,323.3 L1226.0,321.7 L1226.6,321.7 L1227.2,323.3 L1228.5,344.9 L1230.1,367.3 L1231.6,388.0 L1232.3,404.5 L1233.0,395.3 L1234.5,383.7 L1236.1,371.2 L1237.4,359.9 L1238.0,358.3 L1238.6,358.3 L1239.2,359.9 L1240.6,373.0 L1242.2,387.3 L1243.8,400.4 L1244.5,411.0 L1245.2,390.0 L1246.7,363.7 L1248.4,335.4 L1249.8,307.6 L1250.4,306.0 L1251.0,306.0 L1251.6,307.6 L1252.9,330.8 L1254.6,354.7 L1256.1,376.9 L1256.7,394.6 L1257.3,382.7 L1258.8,367.8 L1260.5,351.7 L1261.8,336.6 L1262.4,335.0 L1263.0,335.0 L1263.6,336.6 L1265.0,349.2 L1266.7,362.8 L1268.3,375.5 L1269.0,385.6 L1269.7,376.0 L1271.3,364.0 L1273.0,351.1 L1274.4,339.3 L1275.0,337.7 L1275.6,337.7 L1276.2,339.3 L1277.7,352.5 L1279.4,366.8 L1280.9,380.0 L1281.7,390.5 L1282.3,375.2 L1283.9,356.1 L1285.6,335.4 L1287.1,315.6 L1287.7,314.0 L1288.3,314.0 L1288.9,315.6 L1290.3,327.5 L1291.9,340.5 L1293.4,352.6 L1294.0,362.2 L1294.6,344.6 L1296.1,322.7 L1297.7,298.9 L1299.1,275.9 L1299.7,274.3 L1300.3,274.3 L1300.9,275.9 L1302.3,293.1 L1303.8,311.3 L1305.3,328.1 L1305.8,341.6 L1306.4,332.1 L1307.9,320.2 L1309.4,307.3 L1310.8,295.6 L1311.4,294.0 L1312.0,294.0 L1312.6,295.6 L1314.2,313.8 L1316.1,332.9 L1317.7,350.5 L1318.5,364.7 L1319.3,348.1 L1320.9,327.3 L1322.7,304.9 L1324.4,283.3 L1325.0,281.7 L1325.6,281.7 L1326.2,283.3 L1327.6,299.8 L1329.2,317.2 L1330.7,333.4 L1331.3,346.3 L1331.9,337.3 L1333.3,325.9 L1335.0,313.7 L1336.4,302.6 L1337.0,301.0 L1337.6,301.0 L1338.2,302.6 L1339.6,309.9 L1341.1,318.5 L1342.5,326.5 L1343.0,332.9 L1343.5,321.7 L1344.9,307.6 L1346.4,292.4 L1347.8,278.3 L1348.4,276.7 L1349.0,276.7 L1349.6,278.3 L1351.1,288.5 L1352.7,299.9 L1354.2,310.5 L1354.8,318.9 L1355.5,308.5 L1357.0,295.4 L1358.6,281.3 L1360.1,268.3 L1360.7,266.7 L1361.3,266.7 L1361.9,268.3 L1362.8,281.6 L1363.9,295.9 L1364.9,309.2 L1365.2,319.9 L1365.4,310.7 L1366.4,299.2 L1367.5,286.8 L1369.3,275.5 L1373.3,274.0 L1377.3,275.5 L1379.4,285.9 L1380.8,297.4 L1382.1,308.1 L1382.5,316.6 L1382.9,302.9 L1384.2,285.8 L1385.6,267.4 L1386.8,249.9 L1387.4,248.3 L1388.0,248.3 L1388.6,249.9 L1389.9,269.4 L1391.5,289.7 L1392.8,308.6 L1393.3,323.6 L1393.9,299.9 L1395.2,270.2 L1396.8,238.2 L1398.1,206.6 L1398.7,205.0 L1399.3,205.0 L1399.9,206.6 L1401.2,231.9 L1402.7,257.7 L1404.0,281.7 L1404.5,300.9 L1405.0,283.2 L1406.3,261.0 L1407.8,237.1 L1409.1,213.9 L1409.7,212.3 L1410.3,212.3 L1410.9,213.9 L1411.6,236.5 L1412.6,259.8 L1413.5,281.5 L1413.7,298.7 L1413.8,287.0 L1414.7,272.3 L1415.7,256.4 L1416.4,241.6 L1417.0,240.0 L1417.6,240.0 L1418.2,241.6 L1418.9,254.4 L1419.8,268.3 L1420.7,281.1 L1420.8,291.4 L1420.9,273.1 L1421.8,250.3 L1422.7,225.6 L1423.4,201.6 L1424.0,200.0 L1424.6,200.0 L1425.2,201.6 L1426.5,224.1 L1428.0,247.4 L1429.3,269.0 L1429.8,286.2 L1430.3,263.9 L1431.6,236.1 L1433.1,205.9 L1434.4,176.3 L1435.0,174.7 L1435.6,174.7 L1436.2,176.3 L1437.1,203.9 L1438.2,232.1 L1439.2,258.2 L1439.4,279.1 L1439.6,267.7 L1440.6,253.4 L1441.7,238.0 L1443.5,223.5 L1449.0,222.0 L1454.5,223.5 L1455.0,224.0 L1455,485 L1454.9,483.4 L1454.3,485.0 L1453.7,485.0 L1453.1,483.4 L1451.6,482.6 L1450.1,478.9 L1448.5,473.8 L1447.2,468.7 L1447.0,464.7 L1446.4,464.7 L1446.1,477.1 L1444.8,492.6 L1443.2,508.1 L1441.7,519.3 L1440.2,525.1 L1439.6,526.7 L1439.0,526.7 L1438.4,525.1 L1437.6,519.8 L1436.6,509.5 L1435.6,495.1 L1434.7,480.8 L1434.8,469.3 L1434.2,469.3 L1434.3,485.1 L1433.4,504.9 L1432.4,524.6 L1431.4,538.8 L1430.6,546.7 L1430.0,548.3 L1429.4,548.3 L1428.8,546.7 L1428.0,540.2 L1427.0,527.9 L1426.0,511.0 L1425.1,494.0 L1425.1,480.4 L1424.5,480.4 L1424.6,490.3 L1423.7,502.7 L1422.7,515.1 L1421.7,524.0 L1420.9,528.4 L1420.3,530.0 L1419.7,530.0 L1419.1,528.4 L1418.8,527.3 L1418.2,523.3 L1417.5,517.7 L1417.2,512.1 L1417.3,507.6 L1416.7,507.6 L1416.8,512.7 L1416.5,519.2 L1415.8,525.6 L1415.2,530.2 L1414.9,531.7 L1414.3,533.3 L1413.7,533.3 L1413.1,531.7 L1412.2,527.9 L1411.2,519.8 L1410.0,508.6 L1409.1,497.4 L1409.1,488.5 L1408.5,488.5 L1408.6,502.9 L1407.7,521.0 L1406.5,539.0 L1405.5,552.0 L1404.6,559.1 L1404.0,560.7 L1403.4,560.7 L1402.8,559.1 L1402.0,551.6 L1401.0,537.8 L1400.0,518.8 L1399.1,499.7 L1399.1,484.5 L1398.5,484.5 L1398.6,502.4 L1397.7,524.8 L1396.7,547.1 L1395.7,563.3 L1394.9,572.4 L1394.3,574.0 L1393.7,574.0 L1393.1,572.4 L1392.1,565.2 L1390.9,552.0 L1389.7,533.6 L1388.7,515.2 L1388.6,500.5 L1388.0,500.5 L1388.0,511.1 L1387.0,524.3 L1385.8,537.5 L1384.6,547.0 L1383.6,551.7 L1383.0,553.3 L1382.4,553.3 L1381.8,551.7 L1381.2,548.8 L1380.3,542.1 L1379.4,532.8 L1378.7,523.5 L1378.8,516.0 L1378.2,516.0 L1378.3,521.2 L1377.6,527.6 L1376.7,534.0 L1375.8,538.6 L1375.2,540.1 L1374.6,541.7 L1374.0,541.7 L1373.4,540.1 L1372.6,540.7 L1371.5,539.3 L1370.4,537.3 L1369.5,535.3 L1369.6,533.7 L1369.0,533.7 L1369.1,541.8 L1368.2,551.8 L1367.1,561.9 L1366.0,569.2 L1365.2,572.4 L1364.6,574.0 L1364.0,574.0 L1363.4,572.4 L1362.3,570.5 L1361.2,565.1 L1359.9,557.8 L1358.8,550.4 L1358.8,544.5 L1358.2,544.5 L1358.2,552.6 L1357.1,562.7 L1355.8,572.8 L1354.7,580.1 L1353.6,583.4 L1353.0,585.0 L1352.4,585.0 L1351.8,583.4 L1350.6,579.8 L1349.3,572.0 L1347.9,561.2 L1346.8,550.3 L1346.6,541.7 L1346.0,541.7 L1345.9,547.7 L1344.8,555.2 L1343.4,562.7 L1342.1,568.1 L1340.9,570.1 L1340.3,571.7 L1339.7,571.7 L1339.1,570.1 L1338.7,569.5 L1338.0,566.2 L1337.3,561.5 L1336.9,556.9 L1337.0,553.2 L1336.4,553.2 L1336.5,561.9 L1336.0,572.8 L1335.3,583.7 L1334.6,591.5 L1334.2,595.1 L1333.6,596.7 L1333.0,596.7 L1332.4,595.1 L1330.8,588.6 L1329.2,576.3 L1327.5,559.4 L1326.1,542.4 L1325.8,528.8 L1325.2,528.8 L1324.9,548.4 L1323.5,572.9 L1321.8,597.3 L1320.2,615.0 L1318.6,625.1 L1318.0,626.7 L1317.4,626.7 L1316.8,625.1 L1315.7,619.1 L1314.5,607.7 L1313.3,591.9 L1312.2,576.1 L1312.1,563.4 L1311.5,563.4 L1311.5,569.1 L1310.4,576.2 L1309.2,583.2 L1308.0,588.3 L1306.9,590.1 L1306.3,591.7 L1305.7,591.7 L1305.1,590.1 L1303.9,587.5 L1302.5,581.2 L1301.1,572.4 L1299.9,563.7 L1299.8,556.6 L1299.2,556.6 L1299.1,570.5 L1297.9,587.7 L1296.5,605.0 L1295.1,617.4 L1293.9,624.1 L1293.3,625.7 L1292.7,625.7 L1292.1,624.1 L1291.0,620.8 L1289.8,613.5 L1288.6,603.3 L1287.5,593.1 L1287.5,585.0 L1286.9,585.0 L1286.8,597.0 L1285.7,612.0 L1284.5,627.0 L1283.3,637.8 L1282.2,643.4 L1281.6,645.0 L1281.0,645.0 L1280.4,643.4 L1279.3,639.0 L1278.1,630.0 L1276.8,617.5 L1275.7,605.1 L1275.6,595.1 L1275.0,595.1 L1274.9,606.6 L1273.8,621.0 L1272.5,635.4 L1271.3,645.8 L1270.2,651.1 L1269.6,652.7 L1269.0,652.7 L1268.4,651.1 L1267.2,645.8 L1266.0,635.5 L1264.7,621.2 L1263.5,606.9 L1263.5,595.4 L1262.9,595.4 L1262.8,601.0 L1261.6,608.0 L1260.3,614.9 L1259.1,620.0 L1257.9,621.7 L1257.3,623.3 L1256.7,623.3 L1256.1,621.7 L1254.6,617.5 L1253.1,608.9 L1251.5,596.8 L1250.2,584.8 L1250.0,575.2 L1249.4,575.2 L1249.1,593.1 L1247.8,615.6 L1246.2,638.0 L1244.7,654.2 L1243.2,663.4 L1242.6,665.0 L1242.0,665.0 L1241.4,663.4 L1240.8,655.9 L1239.9,642.3 L1239.0,623.4 L1238.4,604.6 L1238.5,589.5 L1237.9,589.5 L1238.0,603.6 L1237.3,621.2 L1236.4,638.8 L1235.5,651.5 L1234.9,658.4 L1234.3,660.0 L1233.7,660.0 L1233.1,658.4 L1231.7,652.5 L1230.3,641.3 L1228.8,625.7 L1227.5,610.1 L1227.3,597.6 L1226.7,597.6 L1226.5,615.6 L1225.2,638.2 L1223.7,660.7 L1222.3,676.9 L1220.9,686.1 L1220.3,687.7 L1219.7,687.7 L1219.1,686.1 L1217.7,676.9 L1216.3,660.7 L1214.8,638.3 L1213.5,615.8 L1213.3,597.9 L1212.7,597.9 L1212.5,617.8 L1211.2,642.8 L1209.7,667.7 L1208.3,685.7 L1206.9,696.1 L1206.3,697.7 L1205.7,697.7 L1205.1,696.1 L1204.0,686.6 L1202.8,670.0 L1201.5,647.0 L1200.4,623.9 L1200.3,605.5 L1199.7,605.5 L1199.6,624.4 L1198.5,648.0 L1197.2,671.7 L1196.0,688.7 L1194.9,698.4 L1194.3,700.0 L1193.7,700.0 L1193.1,698.4 L1192.0,690.4 L1190.8,676.0 L1189.6,656.0 L1188.5,636.0 L1188.5,620.0 L1187.9,620.0 L1187.8,638.9 L1186.7,662.4 L1185.5,686.0 L1184.3,703.0 L1183.2,712.7 L1182.6,714.3 L1182.0,714.3 L1181.4,712.7 L1180.5,703.8 L1179.5,688.0 L1178.3,666.1 L1177.4,644.3 L1177.5,626.8 L1176.9,626.8 L1176.9,644.4 L1176.0,666.5 L1174.8,688.5 L1173.8,704.4 L1172.9,713.4 L1172.3,715.0 L1171.7,715.0 L1171.1,713.4 L1170.1,706.7 L1169.0,694.2 L1167.8,676.8 L1166.8,659.4 L1166.8,645.6 L1166.2,645.6 L1166.2,655.4 L1165.2,667.8 L1164.0,680.2 L1162.9,689.1 L1161.9,693.4 L1161.3,695.0 L1160.7,695.0 L1160.1,693.4 L1159.7,689.4 L1159.0,681.0 L1158.3,669.4 L1157.9,657.8 L1158.0,648.5 L1157.4,648.5 L1157.5,656.7 L1157.0,666.9 L1156.3,677.1 L1155.6,684.4 L1155.2,687.7 L1154.6,689.3 L1154.0,689.3 L1153.4,687.7 L1152.6,683.6 L1151.5,675.0 L1150.4,663.2 L1149.5,651.3 L1149.6,641.8 L1149.0,641.8 L1149.1,658.4 L1148.2,679.2 L1147.1,700.0 L1146.0,715.0 L1145.2,723.4 L1144.6,725.0 L1144.0,725.0 L1143.4,723.4 L1142.6,715.2 L1141.6,700.5 L1140.6,680.1 L1139.7,659.7 L1139.8,643.4 L1139.2,643.4 L1139.3,660.1 L1138.4,680.9 L1137.4,701.7 L1136.4,716.7 L1135.6,725.1 L1135.0,726.7 L1134.4,726.7 L1133.8,725.1 L1132.9,718.7 L1131.8,706.8 L1130.7,690.2 L1129.8,673.6 L1129.8,660.3 L1129.2,660.3 L1129.2,667.6 L1128.3,676.7 L1127.2,685.8 L1126.1,692.3 L1125.2,695.1 L1124.6,696.7 L1124.0,696.7 L1123.4,695.1 L1123.1,691.9 L1122.5,684.7 L1121.8,674.8 L1121.5,664.8 L1121.6,656.9 L1121.0,656.9 L1121.1,671.0 L1120.8,688.6 L1120.1,706.2 L1119.5,718.8 L1119.2,725.7 L1118.6,727.3 L1118.0,727.3 L1117.4,725.7 L1116.6,718.7 L1115.6,705.9 L1114.6,688.0 L1113.7,670.2 L1113.8,655.9 L1113.2,655.9 L1113.3,674.0 L1112.4,696.7 L1111.4,719.5 L1110.4,735.8 L1109.6,745.1 L1109.0,746.7 L1108.4,746.7 L1107.8,745.1 L1107.0,736.2 L1105.9,720.4 L1104.8,698.6 L1103.9,676.7 L1104.0,659.2 L1103.4,659.2 L1103.5,674.2 L1102.6,692.9 L1101.5,711.6 L1100.4,725.0 L1099.6,732.4 L1099.0,734.0 L1098.4,734.0 L1097.8,732.4 L1097.4,724.8 L1096.6,711.1 L1095.9,692.0 L1095.4,672.9 L1095.5,657.7 L1094.9,657.7 L1095.0,666.1 L1094.5,676.7 L1093.8,687.3 L1093.0,694.9 L1092.6,698.4 L1092.0,700.0 L1091.4,700.0 L1090.8,698.4 L1090.0,694.5 L1089.0,686.2 L1087.9,674.6 L1087.0,663.1 L1087.0,653.9 L1086.5,653.9 L1086.5,671.4 L1085.6,693.2 L1084.5,715.0 L1083.5,730.7 L1082.7,739.6 L1082.1,741.2 L1081.5,741.2 L1080.9,739.6 L1079.9,731.0 L1078.8,715.8 L1077.6,694.6 L1076.6,673.5 L1076.5,656.5 L1076.0,656.5 L1075.9,676.1 L1074.9,700.5 L1073.7,724.9 L1072.6,742.5 L1071.6,752.6 L1071.0,754.2 L1070.4,754.2 L1069.8,752.6 L1068.8,742.8 L1067.6,725.6 L1066.4,701.8 L1065.4,678.0 L1065.4,659.0 L1064.8,659.0 L1064.8,679.9 L1063.8,706.1 L1062.6,732.2 L1061.4,751.0 L1060.4,762.0 L1059.8,763.6 L1059.2,763.6 L1058.6,762.0 L1057.5,751.6 L1056.3,733.5 L1055.0,708.4 L1054.0,683.4 L1053.9,663.3 L1053.3,663.3 L1053.2,684.0 L1052.2,710.0 L1050.9,735.9 L1049.7,754.6 L1048.6,765.4 L1048.0,767.0 L1047.4,767.0 L1046.8,765.4 L1045.6,755.4 L1044.3,738.0 L1042.9,713.9 L1041.8,689.8 L1041.6,670.5 L1041.0,670.5 L1040.9,689.6 L1039.8,713.6 L1038.4,737.5 L1037.1,754.8 L1035.9,764.7 L1035.3,766.3 L1034.7,766.3 L1034.1,764.7 L1032.7,755.3 L1031.2,738.7 L1029.7,715.8 L1028.4,692.8 L1028.1,674.4 L1027.5,674.4 L1027.3,693.3 L1026.0,716.8 L1024.5,740.4 L1023.0,757.3 L1021.6,767.0 L1021.0,768.6 L1020.4,768.6 L1019.8,767.0 L1018.9,759.0 L1017.8,744.6 L1016.6,724.6 L1015.6,704.5 L1015.6,688.5 L1015.1,688.5 L1015.1,695.4 L1014.1,704.0 L1012.9,712.7 L1011.8,718.9 L1010.9,721.4 L1010.3,723.0 L1009.7,723.0 L1009.1,721.4 L1007.8,720.2 L1006.4,716.1 L1005.0,710.3 L1003.8,704.6 L1003.6,700.0 L1003.1,700.0 L1002.9,716.7 L1001.7,737.5 L1000.3,758.3 L998.9,773.3 L997.6,781.7 L997.0,783.3 L996.4,783.3 L995.8,781.7 L994.8,772.4 L993.7,756.0 L992.5,733.2 L991.6,710.4 L991.5,692.2 L991.0,692.2 L990.9,706.1 L990.0,723.5 L988.8,740.8 L987.7,753.4 L986.7,760.1 L986.1,761.7 L985.5,761.7 L984.9,760.1 L983.7,754.3 L982.3,743.3 L980.9,727.9 L979.7,712.6 L979.6,700.3 L979.0,700.3 L978.9,707.6 L977.7,716.8 L976.3,726.0 L974.9,732.6 L973.7,735.4 L973.1,737.0 L972.5,737.0 L971.9,735.4 L970.7,731.7 L969.3,723.8 L967.9,712.9 L966.7,701.9 L966.6,693.1 L966.0,693.1 L965.9,704.4 L964.7,718.6 L963.3,732.7 L961.9,742.8 L960.7,748.0 L960.1,749.6 L959.5,749.6 L958.9,748.0 L957.7,742.3 L956.4,731.3 L955.1,716.0 L953.9,700.8 L953.8,688.6 L953.2,688.6 L953.1,707.3 L951.9,730.6 L950.6,754.0 L949.3,770.8 L948.1,780.4 L947.5,782.0 L946.9,782.0 L946.3,780.4 L945.5,771.1 L944.5,754.7 L943.4,732.0 L942.5,709.3 L942.5,691.1 L942.0,691.1 L942.0,707.2 L941.1,727.4 L940.0,747.5 L939.0,762.0 L938.2,770.1 L937.6,771.7 L937.0,771.7 L936.4,770.1 L934.8,761.8 L933.2,747.1 L931.5,726.5 L930.1,706.0 L929.8,689.6 L929.2,689.6 L928.9,709.5 L927.5,734.5 L925.8,759.4 L924.2,777.3 L922.6,787.7 L922.0,789.3 L921.4,789.3 L920.8,787.7 L919.5,777.7 L918.1,760.2 L916.7,736.0 L915.5,711.8 L915.3,692.5 L914.7,692.5 L914.5,704.1 L913.3,718.7 L911.9,733.2 L910.5,743.7 L909.2,749.1 L908.6,750.7 L908.0,750.7 L907.4,749.1 L907.0,744.4 L906.2,734.9 L905.5,721.7 L905.0,708.5 L905.1,697.9 L904.5,697.9 L904.6,712.7 L904.1,731.1 L903.4,749.6 L902.6,762.8 L902.2,770.1 L901.6,771.7 L901.0,771.7 L900.4,770.1 L899.2,763.2 L898.0,750.4 L896.7,732.6 L895.5,714.9 L895.4,700.7 L894.9,700.7 L894.8,714.9 L893.6,732.6 L892.3,750.4 L891.1,763.2 L889.9,770.1 L889.3,771.7 L888.7,771.7 L888.1,770.1 L887.0,762.6 L885.8,749.1 L884.6,730.2 L883.5,711.4 L883.4,696.3 L882.9,696.3 L882.8,710.0 L881.7,727.2 L880.5,744.4 L879.3,756.8 L878.2,763.4 L877.6,765.0 L877.0,765.0 L876.4,763.4 L876.0,758.3 L875.3,748.2 L874.6,734.1 L874.2,720.1 L874.3,708.9 L873.7,708.9 L873.8,720.3 L873.4,734.6 L872.7,748.9 L872.0,759.1 L871.6,764.4 L871.0,766.0 L870.4,766.0 L869.8,764.4 L868.8,758.8 L867.6,748.0 L866.4,733.1 L865.3,718.1 L865.3,706.1 L864.7,706.1 L864.7,723.2 L863.6,744.6 L862.4,766.0 L861.2,781.4 L860.2,790.1 L859.6,791.7 L859.0,791.7 L858.4,790.1 L857.5,781.4 L856.5,766.0 L855.3,744.6 L854.4,723.2 L854.4,706.1 L853.9,706.1 L853.9,724.6 L853.0,747.6 L851.8,770.6 L850.8,787.2 L849.9,796.7 L849.3,798.3 L848.7,798.3 L848.1,796.7 L847.3,787.7 L846.2,771.8 L845.1,749.7 L844.2,727.7 L844.3,710.0 L843.7,710.0 L843.8,727.0 L842.9,748.2 L841.8,769.5 L840.7,784.8 L839.9,793.4 L839.3,795.0 L838.7,795.0 L838.1,793.4 L837.5,784.7 L836.6,769.3 L835.7,747.9 L835.1,726.5 L835.1,709.4 L834.6,709.4 L834.6,716.8 L834.0,726.2 L833.1,735.5 L832.2,742.2 L831.6,745.1 L831.0,746.7 L830.4,746.7 L829.8,745.1 L829.2,741.9 L828.4,734.7 L827.5,724.7 L826.9,714.7 L827.0,706.8 L826.4,706.8 L826.5,723.7 L825.9,745.0 L825.0,766.2 L824.2,781.5 L823.6,790.1 L823.0,791.7 L822.4,791.7 L821.8,790.1 L821.0,782.1 L820.1,767.7 L819.1,747.8 L818.2,727.8 L818.3,711.8 L817.7,711.8 L817.8,730.4 L816.9,753.7 L815.9,777.0 L815.0,793.8 L814.2,803.4 L813.6,805.0 L813.0,805.0 L812.4,803.4 L811.5,792.3 L810.5,773.3 L809.3,747.0 L808.4,720.6 L808.4,699.5 L807.9,699.5 L807.9,715.2 L807.0,734.9 L805.8,754.7 L804.8,768.8 L803.9,776.7 L803.3,778.3 L802.7,778.3 L802.1,776.7 L801.7,771.2 L801.0,760.5 L800.3,745.7 L799.9,730.9 L799.9,719.0 L799.4,719.0 L799.4,730.4 L799.0,744.7 L798.3,758.9 L797.6,769.2 L797.2,774.4 L796.6,776.0 L796.0,776.0 L795.4,774.4 L794.6,767.3 L793.6,754.2 L792.6,736.0 L791.7,717.8 L791.8,703.2 L791.2,703.2 L791.3,721.8 L790.4,745.0 L789.4,768.2 L788.4,784.9 L787.6,794.4 L787.0,796.0 L786.4,796.0 L785.8,794.4 L785.0,785.8 L783.9,770.5 L782.8,749.2 L781.9,728.0 L782.0,711.0 L781.4,711.0 L781.5,728.8 L780.6,751.0 L779.5,773.3 L778.4,789.3 L777.6,798.4 L777.0,800.0 L776.4,800.0 L775.8,798.4 L774.8,787.8 L773.7,769.4 L772.5,743.9 L771.5,718.4 L771.5,698.0 L770.9,698.0 L770.9,713.2 L769.9,732.2 L768.7,751.2 L767.6,764.9 L766.6,772.4 L766.0,774.0 L765.4,774.0 L764.8,772.4 L764.4,765.3 L763.7,752.2 L763.0,734.1 L762.6,716.0 L762.6,701.4 L762.1,701.4 L762.1,711.5 L761.7,724.1 L761.0,736.6 L760.3,745.7 L759.9,750.1 L759.3,751.7 L758.7,751.7 L758.1,750.1 L757.1,745.5 L755.9,736.2 L754.7,723.3 L753.7,710.4 L753.6,700.0 L753.1,700.0 L753.0,715.2 L752.0,734.2 L750.8,753.2 L749.6,766.9 L748.6,774.4 L748.0,776.0 L747.4,776.0 L746.8,774.4 L745.6,767.8 L744.4,755.4 L743.0,738.2 L741.9,721.1 L741.8,707.3 L741.2,707.3 L741.1,721.2 L740.0,738.6 L738.6,755.9 L737.4,768.4 L736.2,775.1 L735.6,776.7 L735.0,776.7 L734.4,775.1 L733.3,768.7 L732.1,756.8 L730.8,740.2 L729.7,723.6 L729.6,710.4 L729.0,710.4 L728.9,719.3 L727.8,730.5 L726.5,741.6 L725.3,749.6 L724.2,753.4 L723.6,755.0 L723.0,755.0 L722.4,753.4 L721.9,749.9 L721.1,742.3 L720.3,731.6 L719.7,721.0 L719.8,712.5 L719.2,712.5 L719.3,724.4 L718.7,739.2 L717.9,753.9 L717.1,764.6 L716.6,770.1 L716.0,771.7 L715.4,771.7 L714.8,770.1 L713.3,763.7 L711.8,751.7 L710.2,735.0 L708.9,718.4 L708.6,705.1 L708.1,705.1 L707.8,722.2 L706.5,743.6 L704.9,765.0 L703.4,780.4 L701.9,789.1 L701.3,790.7 L700.7,790.7 L700.1,789.1 L699.0,779.4 L697.8,762.4 L696.5,738.7 L695.5,715.1 L695.4,696.2 L694.8,696.2 L694.7,706.0 L693.7,718.2 L692.4,730.4 L691.2,739.1 L690.1,743.4 L689.5,745.0 L688.9,745.0 L688.3,743.4 L687.0,740.0 L685.6,732.6 L684.1,722.3 L682.9,712.0 L682.8,703.7 L682.2,703.7 L682.0,716.6 L680.8,732.7 L679.3,748.7 L677.9,760.3 L676.6,766.4 L676.0,768.0 L675.4,768.0 L674.8,766.4 L673.8,759.4 L672.6,746.6 L671.3,728.8 L670.3,710.9 L670.2,696.6 L669.7,696.6 L669.6,712.7 L668.6,732.8 L667.3,752.9 L666.1,767.4 L665.1,775.4 L664.5,777.0 L663.9,777.0 L663.3,775.4 L662.2,767.5 L661.0,753.3 L659.8,733.5 L658.7,713.8 L658.6,698.0 L658.1,698.0 L658.0,713.4 L656.9,732.6 L655.7,751.9 L654.5,765.8 L653.4,773.4 L652.8,775.0 L652.2,775.0 L651.6,773.4 L650.4,765.6 L649.2,751.5 L647.9,731.9 L646.7,712.3 L646.6,696.6 L646.1,696.6 L646.0,704.4 L644.8,714.1 L643.5,723.8 L642.3,730.8 L641.1,733.9 L640.5,735.5 L639.9,735.5 L639.3,733.9 L637.8,728.0 L636.3,716.7 L634.8,701.0 L633.4,685.3 L633.2,672.7 L632.6,672.7 L632.4,691.2 L631.0,714.2 L629.5,737.3 L628.0,753.9 L626.5,763.4 L625.9,765.0 L625.3,765.0 L624.7,763.4 L624.0,754.4 L623.1,738.4 L622.1,716.2 L621.4,694.1 L621.5,676.4 L620.9,676.4 L621.0,691.5 L620.2,710.4 L619.2,729.3 L618.3,742.9 L617.6,750.4 L617.0,752.0 L616.4,752.0 L615.8,750.4 L614.4,743.0 L613.0,729.6 L611.5,710.9 L610.2,692.2 L610.0,677.2 L609.4,677.2 L609.2,695.6 L607.9,718.5 L606.4,741.5 L605.0,758.0 L603.6,767.4 L603.0,769.0 L602.4,769.0 L601.8,767.4 L600.5,756.6 L599.1,738.1 L597.6,712.4 L596.4,686.7 L596.2,666.1 L595.7,666.1 L595.5,686.2 L594.3,711.4 L592.8,736.5 L591.4,754.6 L590.1,765.1 L589.5,766.7 L588.9,766.7 L588.3,765.1 L587.1,754.7 L585.8,736.7 L584.5,711.8 L583.3,686.8 L583.2,666.8 L582.6,666.8 L582.5,685.1 L581.3,708.0 L580.0,730.8 L578.7,747.3 L577.5,756.7 L576.9,758.3 L576.3,758.3 L575.7,756.7 L574.7,746.8 L573.5,729.6 L572.3,705.6 L571.2,681.6 L571.2,662.5 L570.6,662.5 L570.6,682.5 L569.5,707.6 L568.3,732.6 L567.1,750.7 L566.1,761.1 L565.5,762.7 L564.9,762.7 L564.3,761.1 L563.3,750.8 L562.2,732.9 L561.0,708.1 L560.1,683.2 L560.0,663.3 L559.5,663.3 L559.4,681.9 L558.5,705.0 L557.3,728.2 L556.2,744.9 L555.2,754.4 L554.6,756.0 L554.0,756.0 L553.4,754.4 L552.5,745.4 L551.5,729.5 L550.3,707.5 L549.4,685.4 L549.4,667.7 L548.9,667.7 L548.9,679.2 L548.0,693.5 L546.8,707.8 L545.8,718.1 L544.9,723.4 L544.3,725.0 L543.7,725.0 L543.1,723.4 L542.7,718.1 L542.0,707.7 L541.3,693.4 L540.9,679.0 L540.9,667.5 L540.4,667.5 L540.4,677.0 L540.0,688.9 L539.3,700.7 L538.6,709.3 L538.2,713.4 L537.6,715.0 L537.0,715.0 L536.4,713.4 L535.5,710.3 L534.5,703.3 L533.3,693.5 L532.4,683.7 L532.4,675.9 L531.9,675.9 L531.9,689.4 L531.0,706.2 L529.8,723.1 L528.8,735.2 L527.9,741.7 L527.3,743.3 L526.7,743.3 L526.1,741.7 L525.3,734.9 L524.3,722.4 L523.3,705.0 L522.4,687.5 L522.4,673.6 L521.9,673.6 L521.9,686.0 L521.0,701.5 L520.0,717.1 L519.0,728.2 L518.2,734.1 L517.6,735.7 L517.0,735.7 L516.4,734.1 L515.6,726.3 L514.5,712.3 L513.4,692.8 L512.5,673.3 L512.6,657.7 L512.0,657.7 L512.1,665.5 L511.2,675.2 L510.1,685.0 L509.0,692.0 L508.2,695.1 L507.6,696.7 L507.0,696.7 L506.4,695.1 L506.1,692.1 L505.4,685.1 L504.7,675.4 L504.3,665.7 L504.4,658.0 L503.8,658.0 L503.9,670.9 L503.6,687.1 L502.9,703.3 L502.2,714.9 L501.9,721.1 L501.3,722.7 L500.7,722.7 L500.1,721.1 L499.3,714.4 L498.2,702.0 L497.1,684.8 L496.2,667.6 L496.3,653.9 L495.7,653.9 L495.8,669.9 L494.9,689.9 L493.8,710.0 L492.7,724.4 L491.9,732.4 L491.3,734.0 L490.7,734.0 L490.1,732.4 L489.3,723.4 L488.3,707.4 L487.3,685.3 L486.4,663.1 L486.4,645.4 L485.8,645.4 L485.9,658.7 L485.0,675.4 L484.0,692.0 L483.0,704.0 L482.2,710.4 L481.6,712.0 L481.0,712.0 L480.4,710.4 L480.1,703.2 L479.4,690.0 L478.7,671.7 L478.3,653.3 L478.4,638.7 L477.8,638.7 L477.9,645.3 L477.6,653.5 L476.9,661.8 L476.2,667.7 L475.9,670.1 L475.3,671.7 L474.7,671.7 L474.1,670.1 L473.2,668.2 L472.1,663.1 L470.9,655.9 L469.9,648.6 L469.9,642.9 L469.3,642.9 L469.4,655.4 L468.4,671.2 L467.2,686.9 L466.1,698.2 L465.2,704.1 L464.6,705.7 L464.0,705.7 L463.4,704.1 L462.4,698.2 L461.3,686.9 L460.1,671.1 L459.1,655.4 L459.1,642.9 L458.5,642.9 L458.5,656.2 L457.5,672.8 L456.3,689.4 L455.2,701.3 L454.2,707.7 L453.6,709.3 L453.0,709.3 L452.4,707.7 L451.5,699.0 L450.4,683.5 L449.2,662.1 L448.3,640.6 L448.3,623.4 L447.7,623.4 L447.7,640.9 L446.8,662.7 L445.6,684.5 L444.5,700.2 L443.6,709.1 L443.0,710.7 L442.4,710.7 L441.8,709.1 L440.7,700.1 L439.5,684.3 L438.2,662.3 L437.1,640.3 L437.0,622.7 L436.4,622.7 L436.3,638.7 L435.2,658.7 L433.9,678.7 L432.7,693.1 L431.6,701.1 L431.0,702.7 L430.4,702.7 L429.8,701.1 L428.6,692.2 L427.3,676.5 L425.9,654.6 L424.8,632.7 L424.7,615.2 L424.1,615.2 L423.9,630.5 L422.8,649.6 L421.4,668.8 L420.1,682.5 L418.9,690.1 L418.3,691.7 L417.7,691.7 L417.1,690.1 L415.7,682.2 L414.3,667.9 L412.8,648.1 L411.5,628.3 L411.3,612.4 L410.7,612.4 L410.5,626.3 L409.2,643.6 L407.7,660.9 L406.3,673.4 L404.9,680.1 L404.3,681.7 L403.7,681.7 L403.1,680.1 L402.2,671.0 L401.1,655.1 L399.9,632.9 L398.9,610.7 L398.9,592.9 L398.3,592.9 L398.4,599.8 L397.4,608.4 L396.2,617.0 L395.1,623.2 L394.2,625.7 L393.6,627.3 L393.0,627.3 L392.4,625.7 L391.1,622.9 L389.7,616.2 L388.2,607.0 L387.0,597.7 L386.8,590.3 L386.2,590.3 L386.0,607.5 L384.8,628.9 L383.3,650.3 L381.9,665.7 L380.6,674.4 L380.0,676.0 L379.4,676.0 L378.8,674.4 L377.9,665.8 L376.8,650.6 L375.6,629.4 L374.6,608.2 L374.7,591.2 L374.1,591.2 L374.1,602.1 L373.1,615.7 L371.9,629.3 L370.8,639.2 L369.9,644.1 L369.3,645.7 L368.7,645.7 L368.1,644.1 L366.9,636.1 L365.5,621.7 L364.1,601.6 L362.9,581.6 L362.8,565.6 L362.2,565.6 L362.1,574.6 L360.9,585.9 L359.5,597.2 L358.1,605.3 L356.9,609.1 L356.3,610.7 L355.7,610.7 L355.1,609.1 L353.9,603.3 L352.6,592.2 L351.2,576.9 L350.1,561.5 L349.9,549.2 L349.3,549.2 L349.2,561.9 L348.1,577.8 L346.7,593.6 L345.4,605.1 L344.2,611.1 L343.6,612.7 L343.0,612.7 L342.4,611.1 L341.2,605.5 L339.8,594.7 L338.4,579.8 L337.2,564.8 L337.1,552.8 L336.5,552.8 L336.4,568.9 L335.2,589.0 L333.8,609.2 L332.4,623.6 L331.2,631.7 L330.6,633.3 L330.0,633.3 L329.4,631.7 L328.5,622.0 L327.5,604.9 L326.3,581.3 L325.4,557.7 L325.4,538.8 L324.8,538.8 L324.9,554.0 L324.0,573.1 L322.8,592.1 L321.8,605.9 L320.9,613.4 L320.3,615.0 L319.7,615.0 L319.1,613.4 L317.5,605.1 L315.9,590.2 L314.2,569.5 L312.8,548.9 L312.4,532.3 L311.8,532.3 L311.5,549.7 L310.1,571.5 L308.4,593.2 L306.8,608.9 L305.2,617.7 L304.6,619.3 L304.0,619.3 L303.4,617.7 L302.2,609.6 L300.9,595.0 L299.6,574.8 L298.4,554.6 L298.3,538.4 L297.7,538.4 L297.6,544.6 L296.4,552.3 L295.1,560.0 L293.8,565.6 L292.6,567.7 L292.0,569.3 L291.4,569.3 L290.8,567.7 L290.3,566.3 L289.5,561.8 L288.7,555.6 L288.2,549.3 L288.3,544.3 L287.7,544.3 L287.8,552.5 L287.3,562.6 L286.5,572.8 L285.7,580.1 L285.2,583.4 L284.6,585.0 L284.0,585.0 L283.4,583.4 L282.2,579.1 L280.9,570.3 L279.6,558.1 L278.4,545.9 L278.3,536.1 L277.7,536.1 L277.6,543.9 L276.4,553.6 L275.1,563.3 L273.8,570.3 L272.6,573.4 L272.0,575.0 L271.4,575.0 L270.8,573.4 L269.6,570.6 L268.4,564.0 L267.0,554.9 L265.9,545.8 L265.8,538.5 L265.2,538.5 L265.1,542.4 L264.0,547.4 L262.6,552.4 L261.4,555.9 L260.2,556.7 L259.6,558.3 L259.0,558.3 L258.4,556.7 L258.1,555.6 L257.5,551.4 L256.8,545.7 L256.5,540.0 L256.6,535.4 L256.0,535.4 L256.1,539.0 L255.8,543.5 L255.1,547.9 L254.5,551.2 L254.2,551.7 L253.6,553.3 L253.0,553.3 L252.4,551.7 L251.4,550.4 L250.3,546.0 L249.1,539.9 L248.1,533.8 L248.1,528.9 L247.5,528.9 L247.5,537.0 L246.5,547.1 L245.3,557.2 L244.2,564.5 L243.2,567.7 L242.6,569.3 L242.0,569.3 L241.4,567.7 L240.5,561.2 L239.5,549.1 L238.3,532.2 L237.4,515.3 L237.5,501.8 L236.8,501.8 L236.9,514.9 L236.0,531.3 L234.8,547.7 L233.8,559.4 L232.9,565.7 L232.3,567.3 L231.7,567.3 L231.1,565.7 L230.2,556.8 L229.2,541.1 L228.0,519.3 L227.1,497.4 L227.2,479.9 L226.5,479.9 L226.6,495.2 L225.7,514.2 L224.5,533.2 L223.5,546.9 L222.6,554.4 L222.0,556.0 L221.4,556.0 L220.8,554.4 L219.1,549.0 L217.3,538.5 L215.5,523.9 L214.0,509.3 L213.7,497.6 L213.0,497.6 L212.7,505.6 L211.2,515.7 L209.4,525.7 L207.6,532.9 L205.9,536.1 L205.3,537.7 L204.7,537.7 L204.1,536.1 L203.3,530.6 L202.3,520.0 L201.3,505.2 L200.4,490.5 L200.5,478.7 L199.8,478.7 L199.9,491.6 L199.0,507.8 L198.0,523.9 L197.0,535.5 L196.2,541.7 L195.6,543.3 L195.0,543.3 L194.4,541.7 L193.6,535.1 L192.6,522.7 L191.6,505.5 L190.7,488.4 L190.8,474.6 L190.2,474.6 L190.3,481.8 L189.4,490.9 L188.4,499.9 L187.4,506.4 L186.6,509.1 L186.0,510.7 L185.4,510.7 L184.8,509.1 L184.4,506.4 L183.8,500.1 L183.1,491.2 L182.7,482.3 L182.8,475.2 L182.2,475.2 L182.3,480.7 L181.9,487.6 L181.2,494.5 L180.6,499.4 L180.2,501.1 L179.6,502.7 L179.0,502.7 L178.4,501.1 L176.5,498 Z"/></clipPath>
</defs>
<rect width="1632" height="945" fill="#fff"/>

<g stroke="#000" stroke-width="1" stroke-dasharray="1 3" shape-rendering="crispEdges" fill="none">
<path d="M247.5,66V833"/>
<path d="M389.5,66V833"/>
<path d="M531.5,66V833"/>
<path d="M673.5,66V833"/>
<path d="M815.5,66V833"/>
<path d="M956.5,66V833"/>
<path d="M1098.5,66V833"/>
<path d="M1240.5,66V833"/>
<path d="M1382.5,66V833"/>
<path d="M1523.5,66V833"/>
<path d="M109,718.5H1524"/>
<path d="M109,588.5H1524"/>
<path d="M109,457.5H1524"/>
<path d="M109,326.5H1524"/>
<path d="M109,195.5H1524"/>
<path d="M109,64.5H1524"/>
</g>
<g clip-path="url(#env)"><g filter="url(#tex)" shape-rendering="crispEdges"><rect x="150" y="-124.1" width="2" height="1230" fill="url(#jo)"/><rect x="152" y="-115.0" width="2" height="1230" fill="url(#jo)"/><rect x="154" y="-132.1" width="2" height="1230" fill="url(#jo)"/><rect x="156" y="-117.0" width="2" height="1230" fill="url(#jo)"/><rect x="158" y="-126.8" width="2" height="1230" fill="url(#jo)"/><rect x="160" y="-126.9" width="2" height="1230" fill="url(#jo)"/><rect x="162" y="-109.9" width="2" height="1230" fill="url(#jo)"/><rect x="164" y="-123.6" width="2" height="1230" fill="url(#jo)"/><rect x="166" y="-125.2" width="2" height="1230" fill="url(#jo)"/><rect x="168" y="-119.1" width="2" height="1230" fill="url(#jo)"/><rect x="170" y="-116.0" width="2" height="1230" fill="url(#jo)"/><rect x="172" y="-125.1" width="2" height="1230" fill="url(#jo)"/><rect x="174" y="-120.2" width="2" height="1230" fill="url(#jo)"/><rect x="176" y="-132.5" width="2" height="1230" fill="url(#jo)"/><rect x="178" y="-119.3" width="2" height="1230" fill="url(#jo)"/><rect x="180" y="-141.2" width="2" height="1230" fill="url(#jo)"/><rect x="182" y="-125.6" width="2" height="1230" fill="url(#jo)"/><rect x="184" y="-127.0" width="2" height="1230" fill="url(#jo)"/><rect x="186" y="-149.1" width="2" height="1230" fill="url(#jo)"/><rect x="188" y="-137.0" width="2" height="1230" fill="url(#jo)"/><rect x="190" y="-116.9" width="2" height="1230" fill="url(#jo)"/><rect x="192" y="-114.4" width="2" height="1230" fill="url(#jo)"/><rect x="194" y="-119.6" width="2" height="1230" fill="url(#jo)"/><rect x="196" y="-147.0" width="2" height="1230" fill="url(#jo)"/><rect x="198" y="-137.2" width="2" height="1230" fill="url(#jo)"/><rect x="200" y="-117.7" width="2" height="1230" fill="url(#jo)"/><rect x="202" y="-105.9" width="2" height="1230" fill="url(#jo)"/><rect x="204" y="-131.5" width="2" height="1230" fill="url(#jo)"/><rect x="206" y="-139.2" width="2" height="1230" fill="url(#jo)"/><rect x="208" y="-153.5" width="2" height="1230" fill="url(#jo)"/><rect x="210" y="-136.7" width="2" height="1230" fill="url(#jo)"/><rect x="212" y="-135.5" width="2" height="1230" fill="url(#jo)"/><rect x="214" y="-124.3" width="2" height="1230" fill="url(#jo)"/><rect x="216" y="-103.1" width="2" height="1230" fill="url(#jo)"/><rect x="218" y="-130.9" width="2" height="1230" fill="url(#jo)"/><rect x="220" y="-113.2" width="2" height="1230" fill="url(#jo)"/><rect x="222" y="-133.1" width="2" height="1230" fill="url(#jo)"/><rect x="224" y="-139.4" width="2" height="1230" fill="url(#jo)"/><rect x="226" y="-116.6" width="2" height="1230" fill="url(#jo)"/><rect x="228" y="-107.8" width="2" height="1230" fill="url(#jo)"/><rect x="230" y="-107.4" width="2" height="1230" fill="url(#jo)"/><rect x="232" y="-135.8" width="2" height="1230" fill="url(#jo)"/><rect x="234" y="-142.4" width="2" height="1230" fill="url(#jo)"/><rect x="236" y="-134.2" width="2" height="1230" fill="url(#jo)"/><rect x="238" y="-120.5" width="2" height="1230" fill="url(#jo)"/><rect x="240" y="-114.3" width="2" height="1230" fill="url(#jo)"/><rect x="242" y="-137.8" width="2" height="1230" fill="url(#jo)"/><rect x="244" y="-129.3" width="2" height="1230" fill="url(#jo)"/><rect x="246" y="-150.4" width="2" height="1230" fill="url(#jo)"/><rect x="248" y="-128.4" width="2" height="1230" fill="url(#jo)"/><rect x="250" y="-119.2" width="2" height="1230" fill="url(#jo)"/><rect x="252" y="-136.2" width="2" height="1230" fill="url(#jo)"/><rect x="254" y="-122.3" width="2" height="1230" fill="url(#jo)"/><rect x="256" y="-132.2" width="2" height="1230" fill="url(#jo)"/><rect x="258" y="-120.9" width="2" height="1230" fill="url(#jo)"/><rect x="260" y="-141.5" width="2" height="1230" fill="url(#jo)"/><rect x="262" y="-120.2" width="2" height="1230" fill="url(#jo)"/><rect x="264" y="-131.9" width="2" height="1230" fill="url(#jo)"/><rect x="266" y="-103.6" width="2" height="1230" fill="url(#jo)"/><rect x="268" y="-118.5" width="2" height="1230" fill="url(#jo)"/><rect x="270" y="-120.1" width="2" height="1230" fill="url(#jo)"/><rect x="272" y="-141.6" width="2" height="1230" fill="url(#jo)"/><rect x="274" y="-130.1" width="2" height="1230" fill="url(#jo)"/><rect x="276" y="-126.5" width="2" height="1230" fill="url(#jo)"/><rect x="278" y="-113.1" width="2" height="1230" fill="url(#jo)"/><rect x="280" y="-109.4" width="2" height="1230" fill="url(#jo)"/><rect x="282" y="-102.0" width="2" height="1230" fill="url(#jo)"/><rect x="284" y="-153.4" width="2" height="1230" fill="url(#jo)"/><rect x="286" y="-122.5" width="2" height="1230" fill="url(#jo)"/><rect x="288" y="-105.5" width="2" height="1230" fill="url(#jo)"/><rect x="290" y="-119.7" width="2" height="1230" fill="url(#jo)"/><rect x="292" y="-131.4" width="2" height="1230" fill="url(#jo)"/><rect x="294" y="-141.5" width="2" height="1230" fill="url(#jo)"/><rect x="296" y="-123.0" width="2" height="1230" fill="url(#jo)"/><rect x="298" y="-123.2" width="2" height="1230" fill="url(#jo)"/><rect x="300" y="-114.0" width="2" height="1230" fill="url(#jo)"/><rect x="302" y="-116.1" width="2" height="1230" fill="url(#jo)"/><rect x="304" y="-132.4" width="2" height="1230" fill="url(#jo)"/><rect x="306" y="-138.3" width="2" height="1230" fill="url(#jo)"/><rect x="308" y="-144.5" width="2" height="1230" fill="url(#jo)"/><rect x="310" y="-117.2" width="2" height="1230" fill="url(#jo)"/><rect x="312" y="-133.7" width="2" height="1230" fill="url(#jo)"/><rect x="314" y="-140.9" width="2" height="1230" fill="url(#jo)"/><rect x="316" y="-113.2" width="2" height="1230" fill="url(#jo)"/><rect x="318" y="-118.5" width="2" height="1230" fill="url(#jo)"/><rect x="320" y="-132.2" width="2" height="1230" fill="url(#jo)"/><rect x="322" y="-138.0" width="2" height="1230" fill="url(#jo)"/><rect x="324" y="-118.9" width="2" height="1230" fill="url(#jo)"/><rect x="326" y="-109.2" width="2" height="1230" fill="url(#jo)"/><rect x="328" y="-107.3" width="2" height="1230" fill="url(#jo)"/><rect x="330" y="-134.8" width="2" height="1230" fill="url(#jo)"/><rect x="332" y="-140.3" width="2" height="1230" fill="url(#jo)"/><rect x="334" y="-121.5" width="2" height="1230" fill="url(#jo)"/><rect x="336" y="-124.6" width="2" height="1230" fill="url(#jo)"/><rect x="338" y="-121.3" width="2" height="1230" fill="url(#jo)"/><rect x="340" y="-94.0" width="2" height="1230" fill="url(#jo)"/><rect x="342" y="-114.4" width="2" height="1230" fill="url(#jo)"/><rect x="344" y="-140.7" width="2" height="1230" fill="url(#jo)"/><rect x="346" y="-146.6" width="2" height="1230" fill="url(#jo)"/><rect x="348" y="-126.8" width="2" height="1230" fill="url(#jo)"/><rect x="350" y="-120.6" width="2" height="1230" fill="url(#jo)"/><rect x="352" y="-120.1" width="2" height="1230" fill="url(#jo)"/><rect x="354" y="-126.9" width="2" height="1230" fill="url(#jo)"/><rect x="356" y="-138.0" width="2" height="1230" fill="url(#jo)"/><rect x="358" y="-129.0" width="2" height="1230" fill="url(#jo)"/><rect x="360" y="-132.8" width="2" height="1230" fill="url(#jo)"/><rect x="362" y="-126.2" width="2" height="1230" fill="url(#jo)"/><rect x="364" y="-106.5" width="2" height="1230" fill="url(#jo)"/><rect x="366" y="-113.5" width="2" height="1230" fill="url(#jo)"/><rect x="368" y="-118.2" width="2" height="1230" fill="url(#jo)"/><rect x="370" y="-128.2" width="2" height="1230" fill="url(#jo)"/><rect x="372" y="-134.3" width="2" height="1230" fill="url(#jo)"/><rect x="374" y="-116.0" width="2" height="1230" fill="url(#jo)"/><rect x="376" y="-112.2" width="2" height="1230" fill="url(#jo)"/><rect x="378" y="-126.7" width="2" height="1230" fill="url(#jo)"/><rect x="380" y="-128.7" width="2" height="1230" fill="url(#jo)"/><rect x="382" y="-127.1" width="2" height="1230" fill="url(#jo)"/><rect x="384" y="-133.9" width="2" height="1230" fill="url(#jo)"/><rect x="386" y="-122.6" width="2" height="1230" fill="url(#jo)"/><rect x="388" y="-114.7" width="2" height="1230" fill="url(#jo)"/><rect x="390" y="-118.8" width="2" height="1230" fill="url(#jo)"/><rect x="392" y="-127.1" width="2" height="1230" fill="url(#jo)"/><rect x="394" y="-140.0" width="2" height="1230" fill="url(#jo)"/><rect x="396" y="-142.2" width="2" height="1230" fill="url(#jo)"/><rect x="398" y="-121.0" width="2" height="1230" fill="url(#jo)"/><rect x="400" y="-124.1" width="2" height="1230" fill="url(#jo)"/><rect x="402" y="-113.2" width="2" height="1230" fill="url(#jo)"/><rect x="404" y="-132.4" width="2" height="1230" fill="url(#jo)"/><rect x="406" y="-146.7" width="2" height="1230" fill="url(#jo)"/><rect x="408" y="-154.1" width="2" height="1230" fill="url(#jo)"/><rect x="410" y="-124.9" width="2" height="1230" fill="url(#jo)"/><rect x="412" y="-104.9" width="2" height="1230" fill="url(#jo)"/><rect x="414" y="-117.7" width="2" height="1230" fill="url(#jo)"/><rect x="416" y="-120.7" width="2" height="1230" fill="url(#jo)"/><rect x="418" y="-138.2" width="2" height="1230" fill="url(#jo)"/><rect x="420" y="-132.7" width="2" height="1230" fill="url(#jo)"/><rect x="422" y="-139.3" width="2" height="1230" fill="url(#jo)"/><rect x="424" y="-107.9" width="2" height="1230" fill="url(#jo)"/><rect x="426" y="-114.1" width="2" height="1230" fill="url(#jo)"/><rect x="428" y="-107.1" width="2" height="1230" fill="url(#jo)"/><rect x="430" y="-129.2" width="2" height="1230" fill="url(#jo)"/><rect x="432" y="-139.5" width="2" height="1230" fill="url(#jo)"/><rect x="434" y="-145.6" width="2" height="1230" fill="url(#jo)"/><rect x="436" y="-122.1" width="2" height="1230" fill="url(#jo)"/><rect x="438" y="-113.9" width="2" height="1230" fill="url(#jo)"/><rect x="440" y="-108.9" width="2" height="1230" fill="url(#jo)"/><rect x="442" y="-127.5" width="2" height="1230" fill="url(#jo)"/><rect x="444" y="-143.2" width="2" height="1230" fill="url(#jo)"/><rect x="446" y="-130.8" width="2" height="1230" fill="url(#jo)"/><rect x="448" y="-107.8" width="2" height="1230" fill="url(#jo)"/><rect x="450" y="-113.1" width="2" height="1230" fill="url(#jo)"/><rect x="452" y="-123.6" width="2" height="1230" fill="url(#jo)"/><rect x="454" y="-138.6" width="2" height="1230" fill="url(#jo)"/><rect x="456" y="-131.4" width="2" height="1230" fill="url(#jo)"/><rect x="458" y="-128.7" width="2" height="1230" fill="url(#jo)"/><rect x="460" y="-121.8" width="2" height="1230" fill="url(#jo)"/><rect x="462" y="-110.3" width="2" height="1230" fill="url(#jo)"/><rect x="464" y="-134.4" width="2" height="1230" fill="url(#jo)"/><rect x="466" y="-142.6" width="2" height="1230" fill="url(#jo)"/><rect x="468" y="-128.0" width="2" height="1230" fill="url(#jo)"/><rect x="470" y="-127.9" width="2" height="1230" fill="url(#jo)"/><rect x="472" y="-123.0" width="2" height="1230" fill="url(#jo)"/><rect x="474" y="-124.2" width="2" height="1230" fill="url(#jo)"/><rect x="476" y="-120.9" width="2" height="1230" fill="url(#jo)"/><rect x="478" y="-129.8" width="2" height="1230" fill="url(#jo)"/><rect x="480" y="-125.8" width="2" height="1230" fill="url(#jo)"/><rect x="482" y="-132.2" width="2" height="1230" fill="url(#jo)"/><rect x="484" y="-147.3" width="2" height="1230" fill="url(#jo)"/><rect x="486" y="-111.7" width="2" height="1230" fill="url(#jo)"/><rect x="488" y="-106.5" width="2" height="1230" fill="url(#jo)"/><rect x="490" y="-120.9" width="2" height="1230" fill="url(#jo)"/><rect x="492" y="-147.6" width="2" height="1230" fill="url(#jo)"/><rect x="494" y="-133.8" width="2" height="1230" fill="url(#jo)"/><rect x="496" y="-126.4" width="2" height="1230" fill="url(#jo)"/><rect x="498" y="-107.3" width="2" height="1230" fill="url(#jo)"/><rect x="500" y="-120.1" width="2" height="1230" fill="url(#jo)"/><rect x="502" y="-123.1" width="2" height="1230" fill="url(#jo)"/><rect x="504" y="-130.8" width="2" height="1230" fill="url(#jo)"/><rect x="506" y="-129.5" width="2" height="1230" fill="url(#jo)"/><rect x="508" y="-130.7" width="2" height="1230" fill="url(#jo)"/><rect x="510" y="-140.3" width="2" height="1230" fill="url(#jo)"/><rect x="512" y="-110.7" width="2" height="1230" fill="url(#jo)"/><rect x="514" y="-108.0" width="2" height="1230" fill="url(#jo)"/><rect x="516" y="-122.5" width="2" height="1230" fill="url(#jo)"/><rect x="518" y="-118.1" width="2" height="1230" fill="url(#jo)"/><rect x="520" y="-135.1" width="2" height="1230" fill="url(#jo)"/><rect x="522" y="-99.9" width="2" height="1230" fill="url(#jo)"/><rect x="524" y="-127.8" width="2" height="1230" fill="url(#jo)"/><rect x="526" y="-142.4" width="2" height="1230" fill="url(#jo)"/><rect x="528" y="-128.9" width="2" height="1230" fill="url(#jo)"/><rect x="530" y="-132.2" width="2" height="1230" fill="url(#jo)"/><rect x="532" y="-131.4" width="2" height="1230" fill="url(#jo)"/><rect x="534" y="-112.4" width="2" height="1230" fill="url(#jo)"/><rect x="536" y="-134.3" width="2" height="1230" fill="url(#jo)"/><rect x="538" y="-129.8" width="2" height="1230" fill="url(#jo)"/><rect x="540" y="-132.9" width="2" height="1230" fill="url(#jo)"/><rect x="542" y="-126.6" width="2" height="1230" fill="url(#jo)"/><rect x="544" y="-128.9" width="2" height="1230" fill="url(#jo)"/><rect x="546" y="-133.6" width="2" height="1230" fill="url(#jo)"/><rect x="548" y="-112.5" width="2" height="1230" fill="url(#jo)"/><rect x="550" y="-117.2" width="2" height="1230" fill="url(#jo)"/><rect x="552" y="-118.8" width="2" height="1230" fill="url(#jo)"/><rect x="554" y="-131.8" width="2" height="1230" fill="url(#jo)"/><rect x="556" y="-140.1" width="2" height="1230" fill="url(#jo)"/><rect x="558" y="-119.7" width="2" height="1230" fill="url(#jo)"/><rect x="560" y="-120.4" width="2" height="1230" fill="url(#jo)"/><rect x="562" y="-97.5" width="2" height="1230" fill="url(#jo)"/><rect x="564" y="-129.1" width="2" height="1230" fill="url(#jo)"/><rect x="566" y="-127.9" width="2" height="1230" fill="url(#jo)"/><rect x="568" y="-143.4" width="2" height="1230" fill="url(#jo)"/><rect x="570" y="-116.1" width="2" height="1230" fill="url(#jo)"/><rect x="572" y="-111.9" width="2" height="1230" fill="url(#jo)"/><rect x="574" y="-110.1" width="2" height="1230" fill="url(#jo)"/><rect x="576" y="-123.7" width="2" height="1230" fill="url(#jo)"/><rect x="578" y="-142.1" width="2" height="1230" fill="url(#jo)"/><rect x="580" y="-145.1" width="2" height="1230" fill="url(#jo)"/><rect x="582" y="-144.7" width="2" height="1230" fill="url(#jo)"/><rect x="584" y="-103.9" width="2" height="1230" fill="url(#jo)"/><rect x="586" y="-117.8" width="2" height="1230" fill="url(#jo)"/><rect x="588" y="-126.1" width="2" height="1230" fill="url(#jo)"/><rect x="590" y="-136.0" width="2" height="1230" fill="url(#jo)"/><rect x="592" y="-122.2" width="2" height="1230" fill="url(#jo)"/><rect x="594" y="-146.4" width="2" height="1230" fill="url(#jo)"/><rect x="596" y="-114.7" width="2" height="1230" fill="url(#jo)"/><rect x="598" y="-114.9" width="2" height="1230" fill="url(#jo)"/><rect x="600" y="-109.9" width="2" height="1230" fill="url(#jo)"/><rect x="602" y="-143.1" width="2" height="1230" fill="url(#jo)"/><rect x="604" y="-140.3" width="2" height="1230" fill="url(#jo)"/><rect x="606" y="-130.0" width="2" height="1230" fill="url(#jo)"/><rect x="608" y="-112.6" width="2" height="1230" fill="url(#jo)"/><rect x="610" y="-101.5" width="2" height="1230" fill="url(#jo)"/><rect x="612" y="-118.5" width="2" height="1230" fill="url(#jo)"/><rect x="614" y="-114.4" width="2" height="1230" fill="url(#jo)"/><rect x="616" y="-131.1" width="2" height="1230" fill="url(#jo)"/><rect x="618" y="-148.5" width="2" height="1230" fill="url(#jo)"/><rect x="620" y="-131.3" width="2" height="1230" fill="url(#jo)"/><rect x="622" y="-105.8" width="2" height="1230" fill="url(#jo)"/><rect x="624" y="-115.6" width="2" height="1230" fill="url(#jo)"/><rect x="626" y="-135.0" width="2" height="1230" fill="url(#jo)"/><rect x="628" y="-128.2" width="2" height="1230" fill="url(#jo)"/><rect x="630" y="-144.0" width="2" height="1230" fill="url(#jo)"/><rect x="632" y="-123.6" width="2" height="1230" fill="url(#jo)"/><rect x="634" y="-114.0" width="2" height="1230" fill="url(#jo)"/><rect x="636" y="-112.3" width="2" height="1230" fill="url(#jo)"/><rect x="638" y="-112.2" width="2" height="1230" fill="url(#jo)"/><rect x="640" y="-131.8" width="2" height="1230" fill="url(#jo)"/><rect x="642" y="-135.7" width="2" height="1230" fill="url(#jo)"/><rect x="644" y="-127.5" width="2" height="1230" fill="url(#jo)"/><rect x="646" y="-99.3" width="2" height="1230" fill="url(#jo)"/><rect x="648" y="-114.2" width="2" height="1230" fill="url(#jo)"/><rect x="650" y="-107.2" width="2" height="1230" fill="url(#jo)"/><rect x="652" y="-126.4" width="2" height="1230" fill="url(#jo)"/><rect x="654" y="-140.6" width="2" height="1230" fill="url(#jo)"/><rect x="656" y="-126.2" width="2" height="1230" fill="url(#jo)"/><rect x="658" y="-122.0" width="2" height="1230" fill="url(#jo)"/><rect x="660" y="-102.6" width="2" height="1230" fill="url(#jo)"/><rect x="662" y="-122.0" width="2" height="1230" fill="url(#jo)"/><rect x="664" y="-136.1" width="2" height="1230" fill="url(#jo)"/><rect x="666" y="-135.2" width="2" height="1230" fill="url(#jo)"/><rect x="668" y="-128.7" width="2" height="1230" fill="url(#jo)"/><rect x="670" y="-111.4" width="2" height="1230" fill="url(#jo)"/><rect x="672" y="-104.7" width="2" height="1230" fill="url(#jo)"/><rect x="674" y="-118.8" width="2" height="1230" fill="url(#jo)"/><rect x="676" y="-141.5" width="2" height="1230" fill="url(#jo)"/><rect x="678" y="-133.6" width="2" height="1230" fill="url(#jo)"/><rect x="680" y="-132.9" width="2" height="1230" fill="url(#jo)"/><rect x="682" y="-128.2" width="2" height="1230" fill="url(#jo)"/><rect x="684" y="-104.9" width="2" height="1230" fill="url(#jo)"/><rect x="686" y="-111.2" width="2" height="1230" fill="url(#jo)"/><rect x="688" y="-129.1" width="2" height="1230" fill="url(#jo)"/><rect x="690" y="-133.6" width="2" height="1230" fill="url(#jo)"/><rect x="692" y="-145.9" width="2" height="1230" fill="url(#jo)"/><rect x="694" y="-125.1" width="2" height="1230" fill="url(#jo)"/><rect x="696" y="-108.9" width="2" height="1230" fill="url(#jo)"/><rect x="698" y="-125.5" width="2" height="1230" fill="url(#jo)"/><rect x="700" y="-124.5" width="2" height="1230" fill="url(#jo)"/><rect x="702" y="-147.2" width="2" height="1230" fill="url(#jo)"/><rect x="704" y="-131.4" width="2" height="1230" fill="url(#jo)"/><rect x="706" y="-134.7" width="2" height="1230" fill="url(#jo)"/><rect x="708" y="-113.8" width="2" height="1230" fill="url(#jo)"/><rect x="710" y="-123.7" width="2" height="1230" fill="url(#jo)"/><rect x="712" y="-115.7" width="2" height="1230" fill="url(#jo)"/><rect x="714" y="-111.6" width="2" height="1230" fill="url(#jo)"/><rect x="716" y="-132.8" width="2" height="1230" fill="url(#jo)"/><rect x="718" y="-149.5" width="2" height="1230" fill="url(#jo)"/><rect x="720" y="-106.0" width="2" height="1230" fill="url(#jo)"/><rect x="722" y="-111.7" width="2" height="1230" fill="url(#jo)"/><rect x="724" y="-138.0" width="2" height="1230" fill="url(#jo)"/><rect x="726" y="-126.8" width="2" height="1230" fill="url(#jo)"/><rect x="728" y="-143.3" width="2" height="1230" fill="url(#jo)"/><rect x="730" y="-120.5" width="2" height="1230" fill="url(#jo)"/><rect x="732" y="-103.0" width="2" height="1230" fill="url(#jo)"/><rect x="734" y="-109.5" width="2" height="1230" fill="url(#jo)"/><rect x="736" y="-124.6" width="2" height="1230" fill="url(#jo)"/><rect x="738" y="-146.4" width="2" height="1230" fill="url(#jo)"/><rect x="740" y="-150.1" width="2" height="1230" fill="url(#jo)"/><rect x="742" y="-125.4" width="2" height="1230" fill="url(#jo)"/><rect x="744" y="-123.5" width="2" height="1230" fill="url(#jo)"/><rect x="746" y="-117.4" width="2" height="1230" fill="url(#jo)"/><rect x="748" y="-144.5" width="2" height="1230" fill="url(#jo)"/><rect x="750" y="-129.5" width="2" height="1230" fill="url(#jo)"/><rect x="752" y="-126.9" width="2" height="1230" fill="url(#jo)"/><rect x="754" y="-110.9" width="2" height="1230" fill="url(#jo)"/><rect x="756" y="-112.0" width="2" height="1230" fill="url(#jo)"/><rect x="758" y="-124.5" width="2" height="1230" fill="url(#jo)"/><rect x="760" y="-134.7" width="2" height="1230" fill="url(#jo)"/><rect x="762" y="-109.2" width="2" height="1230" fill="url(#jo)"/><rect x="764" y="-114.4" width="2" height="1230" fill="url(#jo)"/><rect x="766" y="-132.8" width="2" height="1230" fill="url(#jo)"/><rect x="768" y="-138.4" width="2" height="1230" fill="url(#jo)"/><rect x="770" y="-101.8" width="2" height="1230" fill="url(#jo)"/><rect x="772" y="-109.6" width="2" height="1230" fill="url(#jo)"/><rect x="774" y="-103.2" width="2" height="1230" fill="url(#jo)"/><rect x="776" y="-119.2" width="2" height="1230" fill="url(#jo)"/><rect x="778" y="-144.7" width="2" height="1230" fill="url(#jo)"/><rect x="780" y="-145.9" width="2" height="1230" fill="url(#jo)"/><rect x="782" y="-104.1" width="2" height="1230" fill="url(#jo)"/><rect x="784" y="-115.8" width="2" height="1230" fill="url(#jo)"/><rect x="786" y="-128.7" width="2" height="1230" fill="url(#jo)"/><rect x="788" y="-139.6" width="2" height="1230" fill="url(#jo)"/><rect x="790" y="-134.0" width="2" height="1230" fill="url(#jo)"/><rect x="792" y="-125.3" width="2" height="1230" fill="url(#jo)"/><rect x="794" y="-113.7" width="2" height="1230" fill="url(#jo)"/><rect x="796" y="-138.1" width="2" height="1230" fill="url(#jo)"/><rect x="798" y="-134.6" width="2" height="1230" fill="url(#jo)"/><rect x="800" y="-130.5" width="2" height="1230" fill="url(#jo)"/><rect x="802" y="-118.4" width="2" height="1230" fill="url(#jo)"/><rect x="804" y="-135.3" width="2" height="1230" fill="url(#jo)"/><rect x="806" y="-138.4" width="2" height="1230" fill="url(#jo)"/><rect x="808" y="-118.8" width="2" height="1230" fill="url(#jo)"/><rect x="810" y="-112.2" width="2" height="1230" fill="url(#jo)"/><rect x="812" y="-115.7" width="2" height="1230" fill="url(#jo)"/><rect x="814" y="-137.2" width="2" height="1230" fill="url(#jo)"/><rect x="816" y="-123.8" width="2" height="1230" fill="url(#jo)"/><rect x="818" y="-114.8" width="2" height="1230" fill="url(#jo)"/><rect x="820" y="-120.3" width="2" height="1230" fill="url(#jo)"/><rect x="822" y="-130.1" width="2" height="1230" fill="url(#jo)"/><rect x="824" y="-119.0" width="2" height="1230" fill="url(#jo)"/><rect x="826" y="-129.6" width="2" height="1230" fill="url(#jo)"/><rect x="828" y="-118.2" width="2" height="1230" fill="url(#jo)"/><rect x="830" y="-129.3" width="2" height="1230" fill="url(#jo)"/><rect x="832" y="-110.7" width="2" height="1230" fill="url(#jo)"/><rect x="834" y="-103.8" width="2" height="1230" fill="url(#jo)"/><rect x="836" y="-115.2" width="2" height="1230" fill="url(#jo)"/><rect x="838" y="-124.9" width="2" height="1230" fill="url(#jo)"/><rect x="840" y="-142.3" width="2" height="1230" fill="url(#jo)"/><rect x="842" y="-137.7" width="2" height="1230" fill="url(#jo)"/><rect x="844" y="-126.6" width="2" height="1230" fill="url(#jo)"/><rect x="846" y="-116.7" width="2" height="1230" fill="url(#jo)"/><rect x="848" y="-133.2" width="2" height="1230" fill="url(#jo)"/><rect x="850" y="-148.0" width="2" height="1230" fill="url(#jo)"/><rect x="852" y="-135.7" width="2" height="1230" fill="url(#jo)"/><rect x="854" y="-121.2" width="2" height="1230" fill="url(#jo)"/><rect x="856" y="-114.5" width="2" height="1230" fill="url(#jo)"/><rect x="858" y="-108.8" width="2" height="1230" fill="url(#jo)"/><rect x="860" y="-127.9" width="2" height="1230" fill="url(#jo)"/><rect x="862" y="-129.7" width="2" height="1230" fill="url(#jo)"/><rect x="864" y="-138.7" width="2" height="1230" fill="url(#jo)"/><rect x="866" y="-128.1" width="2" height="1230" fill="url(#jo)"/><rect x="868" y="-107.9" width="2" height="1230" fill="url(#jo)"/><rect x="870" y="-128.5" width="2" height="1230" fill="url(#jo)"/><rect x="872" y="-130.7" width="2" height="1230" fill="url(#jo)"/><rect x="874" y="-110.0" width="2" height="1230" fill="url(#jo)"/><rect x="876" y="-108.8" width="2" height="1230" fill="url(#jo)"/><rect x="878" y="-140.2" width="2" height="1230" fill="url(#jo)"/><rect x="880" y="-116.0" width="2" height="1230" fill="url(#jo)"/><rect x="882" y="-120.7" width="2" height="1230" fill="url(#jo)"/><rect x="884" y="-129.9" width="2" height="1230" fill="url(#jo)"/><rect x="886" y="-117.9" width="2" height="1230" fill="url(#jo)"/><rect x="888" y="-113.0" width="2" height="1230" fill="url(#jo)"/><rect x="890" y="-151.0" width="2" height="1230" fill="url(#jo)"/><rect x="892" y="-122.1" width="2" height="1230" fill="url(#jo)"/><rect x="894" y="-120.3" width="2" height="1230" fill="url(#jo)"/><rect x="896" y="-114.9" width="2" height="1230" fill="url(#jo)"/><rect x="898" y="-113.2" width="2" height="1230" fill="url(#jo)"/><rect x="900" y="-119.5" width="2" height="1230" fill="url(#jo)"/><rect x="902" y="-145.0" width="2" height="1230" fill="url(#jo)"/><rect x="904" y="-132.2" width="2" height="1230" fill="url(#jo)"/><rect x="906" y="-108.2" width="2" height="1230" fill="url(#jo)"/><rect x="908" y="-124.2" width="2" height="1230" fill="url(#jo)"/><rect x="910" y="-142.8" width="2" height="1230" fill="url(#jo)"/><rect x="912" y="-125.4" width="2" height="1230" fill="url(#jo)"/><rect x="914" y="-118.4" width="2" height="1230" fill="url(#jo)"/><rect x="916" y="-98.4" width="2" height="1230" fill="url(#jo)"/><rect x="918" y="-122.3" width="2" height="1230" fill="url(#jo)"/><rect x="920" y="-116.0" width="2" height="1230" fill="url(#jo)"/><rect x="922" y="-148.2" width="2" height="1230" fill="url(#jo)"/><rect x="924" y="-134.8" width="2" height="1230" fill="url(#jo)"/><rect x="926" y="-132.0" width="2" height="1230" fill="url(#jo)"/><rect x="928" y="-137.6" width="2" height="1230" fill="url(#jo)"/><rect x="930" y="-127.5" width="2" height="1230" fill="url(#jo)"/><rect x="932" y="-110.3" width="2" height="1230" fill="url(#jo)"/><rect x="934" y="-108.6" width="2" height="1230" fill="url(#jo)"/><rect x="936" y="-127.4" width="2" height="1230" fill="url(#jo)"/><rect x="938" y="-139.4" width="2" height="1230" fill="url(#jo)"/><rect x="940" y="-153.1" width="2" height="1230" fill="url(#jo)"/><rect x="942" y="-120.0" width="2" height="1230" fill="url(#jo)"/><rect x="944" y="-111.0" width="2" height="1230" fill="url(#jo)"/><rect x="946" y="-120.1" width="2" height="1230" fill="url(#jo)"/><rect x="948" y="-123.1" width="2" height="1230" fill="url(#jo)"/><rect x="950" y="-146.8" width="2" height="1230" fill="url(#jo)"/><rect x="952" y="-151.6" width="2" height="1230" fill="url(#jo)"/><rect x="954" y="-113.8" width="2" height="1230" fill="url(#jo)"/><rect x="956" y="-116.4" width="2" height="1230" fill="url(#jo)"/><rect x="958" y="-114.6" width="2" height="1230" fill="url(#jo)"/><rect x="960" y="-128.0" width="2" height="1230" fill="url(#jo)"/><rect x="962" y="-133.1" width="2" height="1230" fill="url(#jo)"/><rect x="964" y="-124.0" width="2" height="1230" fill="url(#jo)"/><rect x="966" y="-109.9" width="2" height="1230" fill="url(#jo)"/><rect x="968" y="-125.4" width="2" height="1230" fill="url(#jo)"/><rect x="970" y="-113.9" width="2" height="1230" fill="url(#jo)"/><rect x="972" y="-112.4" width="2" height="1230" fill="url(#jo)"/><rect x="974" y="-140.3" width="2" height="1230" fill="url(#jo)"/><rect x="976" y="-129.1" width="2" height="1230" fill="url(#jo)"/><rect x="978" y="-125.3" width="2" height="1230" fill="url(#jo)"/><rect x="980" y="-116.7" width="2" height="1230" fill="url(#jo)"/><rect x="982" y="-99.6" width="2" height="1230" fill="url(#jo)"/><rect x="984" y="-109.5" width="2" height="1230" fill="url(#jo)"/><rect x="986" y="-137.0" width="2" height="1230" fill="url(#jo)"/><rect x="988" y="-130.3" width="2" height="1230" fill="url(#jo)"/><rect x="990" y="-135.1" width="2" height="1230" fill="url(#jo)"/><rect x="992" y="-118.3" width="2" height="1230" fill="url(#jo)"/><rect x="994" y="-106.2" width="2" height="1230" fill="url(#jo)"/><rect x="996" y="-128.4" width="2" height="1230" fill="url(#jo)"/><rect x="998" y="-145.0" width="2" height="1230" fill="url(#jo)"/><rect x="1000" y="-133.9" width="2" height="1230" fill="url(#jo)"/><rect x="1002" y="-129.2" width="2" height="1230" fill="url(#jo)"/><rect x="1004" y="-105.4" width="2" height="1230" fill="url(#jo)"/><rect x="1006" y="-104.2" width="2" height="1230" fill="url(#jo)"/><rect x="1008" y="-118.5" width="2" height="1230" fill="url(#jo)"/><rect x="1010" y="-137.5" width="2" height="1230" fill="url(#jo)"/><rect x="1012" y="-139.0" width="2" height="1230" fill="url(#jo)"/><rect x="1014" y="-133.9" width="2" height="1230" fill="url(#jo)"/><rect x="1016" y="-102.5" width="2" height="1230" fill="url(#jo)"/><rect x="1018" y="-100.3" width="2" height="1230" fill="url(#jo)"/><rect x="1020" y="-117.9" width="2" height="1230" fill="url(#jo)"/><rect x="1022" y="-133.4" width="2" height="1230" fill="url(#jo)"/><rect x="1024" y="-139.7" width="2" height="1230" fill="url(#jo)"/><rect x="1026" y="-126.5" width="2" height="1230" fill="url(#jo)"/><rect x="1028" y="-120.9" width="2" height="1230" fill="url(#jo)"/><rect x="1030" y="-110.2" width="2" height="1230" fill="url(#jo)"/><rect x="1032" y="-126.4" width="2" height="1230" fill="url(#jo)"/><rect x="1034" y="-128.1" width="2" height="1230" fill="url(#jo)"/><rect x="1036" y="-125.5" width="2" height="1230" fill="url(#jo)"/><rect x="1038" y="-144.9" width="2" height="1230" fill="url(#jo)"/><rect x="1040" y="-136.5" width="2" height="1230" fill="url(#jo)"/><rect x="1042" y="-114.6" width="2" height="1230" fill="url(#jo)"/><rect x="1044" y="-99.0" width="2" height="1230" fill="url(#jo)"/><rect x="1046" y="-106.8" width="2" height="1230" fill="url(#jo)"/><rect x="1048" y="-137.9" width="2" height="1230" fill="url(#jo)"/><rect x="1050" y="-141.3" width="2" height="1230" fill="url(#jo)"/><rect x="1052" y="-130.2" width="2" height="1230" fill="url(#jo)"/><rect x="1054" y="-121.0" width="2" height="1230" fill="url(#jo)"/><rect x="1056" y="-111.8" width="2" height="1230" fill="url(#jo)"/><rect x="1058" y="-121.5" width="2" height="1230" fill="url(#jo)"/><rect x="1060" y="-147.2" width="2" height="1230" fill="url(#jo)"/><rect x="1062" y="-142.0" width="2" height="1230" fill="url(#jo)"/><rect x="1064" y="-131.2" width="2" height="1230" fill="url(#jo)"/><rect x="1066" y="-119.8" width="2" height="1230" fill="url(#jo)"/><rect x="1068" y="-121.9" width="2" height="1230" fill="url(#jo)"/><rect x="1070" y="-122.0" width="2" height="1230" fill="url(#jo)"/><rect x="1072" y="-122.5" width="2" height="1230" fill="url(#jo)"/><rect x="1074" y="-138.3" width="2" height="1230" fill="url(#jo)"/><rect x="1076" y="-123.4" width="2" height="1230" fill="url(#jo)"/><rect x="1078" y="-107.9" width="2" height="1230" fill="url(#jo)"/><rect x="1080" y="-118.3" width="2" height="1230" fill="url(#jo)"/><rect x="1082" y="-131.0" width="2" height="1230" fill="url(#jo)"/><rect x="1084" y="-113.9" width="2" height="1230" fill="url(#jo)"/><rect x="1086" y="-133.0" width="2" height="1230" fill="url(#jo)"/><rect x="1088" y="-130.6" width="2" height="1230" fill="url(#jo)"/><rect x="1090" y="-130.0" width="2" height="1230" fill="url(#jo)"/><rect x="1092" y="-122.6" width="2" height="1230" fill="url(#jo)"/><rect x="1094" y="-113.6" width="2" height="1230" fill="url(#jo)"/><rect x="1096" y="-109.8" width="2" height="1230" fill="url(#jo)"/><rect x="1098" y="-118.5" width="2" height="1230" fill="url(#jo)"/><rect x="1100" y="-132.7" width="2" height="1230" fill="url(#jo)"/><rect x="1102" y="-129.6" width="2" height="1230" fill="url(#jo)"/><rect x="1104" y="-122.9" width="2" height="1230" fill="url(#jo)"/><rect x="1106" y="-113.6" width="2" height="1230" fill="url(#jo)"/><rect x="1108" y="-136.8" width="2" height="1230" fill="url(#jo)"/><rect x="1110" y="-138.5" width="2" height="1230" fill="url(#jo)"/><rect x="1112" y="-126.4" width="2" height="1230" fill="url(#jo)"/><rect x="1114" y="-112.9" width="2" height="1230" fill="url(#jo)"/><rect x="1116" y="-114.9" width="2" height="1230" fill="url(#jo)"/><rect x="1118" y="-139.6" width="2" height="1230" fill="url(#jo)"/><rect x="1120" y="-136.9" width="2" height="1230" fill="url(#jo)"/><rect x="1122" y="-111.7" width="2" height="1230" fill="url(#jo)"/><rect x="1124" y="-140.5" width="2" height="1230" fill="url(#jo)"/><rect x="1126" y="-141.4" width="2" height="1230" fill="url(#jo)"/><rect x="1128" y="-113.6" width="2" height="1230" fill="url(#jo)"/><rect x="1130" y="-125.3" width="2" height="1230" fill="url(#jo)"/><rect x="1132" y="-117.0" width="2" height="1230" fill="url(#jo)"/><rect x="1134" y="-139.0" width="2" height="1230" fill="url(#jo)"/><rect x="1136" y="-125.8" width="2" height="1230" fill="url(#jo)"/><rect x="1138" y="-125.1" width="2" height="1230" fill="url(#jo)"/><rect x="1140" y="-108.7" width="2" height="1230" fill="url(#jo)"/><rect x="1142" y="-110.9" width="2" height="1230" fill="url(#jo)"/><rect x="1144" y="-129.6" width="2" height="1230" fill="url(#jo)"/><rect x="1146" y="-135.5" width="2" height="1230" fill="url(#jo)"/><rect x="1148" y="-147.2" width="2" height="1230" fill="url(#jo)"/><rect x="1150" y="-113.9" width="2" height="1230" fill="url(#jo)"/><rect x="1152" y="-108.3" width="2" height="1230" fill="url(#jo)"/><rect x="1154" y="-144.9" width="2" height="1230" fill="url(#jo)"/><rect x="1156" y="-130.2" width="2" height="1230" fill="url(#jo)"/><rect x="1158" y="-108.8" width="2" height="1230" fill="url(#jo)"/><rect x="1160" y="-136.8" width="2" height="1230" fill="url(#jo)"/><rect x="1162" y="-141.4" width="2" height="1230" fill="url(#jo)"/><rect x="1164" y="-135.3" width="2" height="1230" fill="url(#jo)"/><rect x="1166" y="-119.3" width="2" height="1230" fill="url(#jo)"/><rect x="1168" y="-108.7" width="2" height="1230" fill="url(#jo)"/><rect x="1170" y="-126.4" width="2" height="1230" fill="url(#jo)"/><rect x="1172" y="-136.4" width="2" height="1230" fill="url(#jo)"/><rect x="1174" y="-135.4" width="2" height="1230" fill="url(#jo)"/><rect x="1176" y="-114.6" width="2" height="1230" fill="url(#jo)"/><rect x="1178" y="-111.7" width="2" height="1230" fill="url(#jo)"/><rect x="1180" y="-116.5" width="2" height="1230" fill="url(#jo)"/><rect x="1182" y="-126.5" width="2" height="1230" fill="url(#jo)"/><rect x="1184" y="-153.4" width="2" height="1230" fill="url(#jo)"/><rect x="1186" y="-127.4" width="2" height="1230" fill="url(#jo)"/><rect x="1188" y="-120.0" width="2" height="1230" fill="url(#jo)"/><rect x="1190" y="-121.6" width="2" height="1230" fill="url(#jo)"/><rect x="1192" y="-119.3" width="2" height="1230" fill="url(#jo)"/><rect x="1194" y="-147.1" width="2" height="1230" fill="url(#jo)"/><rect x="1196" y="-153.7" width="2" height="1230" fill="url(#jo)"/><rect x="1198" y="-138.7" width="2" height="1230" fill="url(#jo)"/><rect x="1200" y="-130.9" width="2" height="1230" fill="url(#jo)"/><rect x="1202" y="-106.4" width="2" height="1230" fill="url(#jo)"/><rect x="1204" y="-122.3" width="2" height="1230" fill="url(#jo)"/><rect x="1206" y="-142.5" width="2" height="1230" fill="url(#jo)"/><rect x="1208" y="-144.9" width="2" height="1230" fill="url(#jo)"/><rect x="1210" y="-123.6" width="2" height="1230" fill="url(#jo)"/><rect x="1212" y="-130.7" width="2" height="1230" fill="url(#jo)"/><rect x="1214" y="-119.9" width="2" height="1230" fill="url(#jo)"/><rect x="1216" y="-119.5" width="2" height="1230" fill="url(#jo)"/><rect x="1218" y="-125.0" width="2" height="1230" fill="url(#jo)"/><rect x="1220" y="-134.5" width="2" height="1230" fill="url(#jo)"/><rect x="1222" y="-134.5" width="2" height="1230" fill="url(#jo)"/><rect x="1224" y="-125.4" width="2" height="1230" fill="url(#jo)"/><rect x="1226" y="-109.7" width="2" height="1230" fill="url(#jo)"/><rect x="1228" y="-110.5" width="2" height="1230" fill="url(#jo)"/><rect x="1230" y="-117.4" width="2" height="1230" fill="url(#jo)"/><rect x="1232" y="-124.1" width="2" height="1230" fill="url(#jo)"/><rect x="1234" y="-153.2" width="2" height="1230" fill="url(#jo)"/><rect x="1236" y="-144.4" width="2" height="1230" fill="url(#jo)"/><rect x="1238" y="-112.7" width="2" height="1230" fill="url(#jo)"/><rect x="1240" y="-115.6" width="2" height="1230" fill="url(#jo)"/><rect x="1242" y="-127.7" width="2" height="1230" fill="url(#jo)"/><rect x="1244" y="-147.2" width="2" height="1230" fill="url(#jo)"/><rect x="1246" y="-130.7" width="2" height="1230" fill="url(#jo)"/><rect x="1248" y="-132.1" width="2" height="1230" fill="url(#jo)"/><rect x="1250" y="-120.3" width="2" height="1230" fill="url(#jo)"/><rect x="1252" y="-109.3" width="2" height="1230" fill="url(#jo)"/><rect x="1254" y="-130.6" width="2" height="1230" fill="url(#jo)"/><rect x="1256" y="-129.2" width="2" height="1230" fill="url(#jo)"/><rect x="1258" y="-144.1" width="2" height="1230" fill="url(#jo)"/><rect x="1260" y="-122.1" width="2" height="1230" fill="url(#jo)"/><rect x="1262" y="-122.2" width="2" height="1230" fill="url(#jo)"/><rect x="1264" y="-116.6" width="2" height="1230" fill="url(#jo)"/><rect x="1266" y="-105.9" width="2" height="1230" fill="url(#jo)"/><rect x="1268" y="-129.0" width="2" height="1230" fill="url(#jo)"/><rect x="1270" y="-124.9" width="2" height="1230" fill="url(#jo)"/><rect x="1272" y="-142.9" width="2" height="1230" fill="url(#jo)"/><rect x="1274" y="-129.6" width="2" height="1230" fill="url(#jo)"/><rect x="1276" y="-120.8" width="2" height="1230" fill="url(#jo)"/><rect x="1278" y="-105.9" width="2" height="1230" fill="url(#jo)"/><rect x="1280" y="-137.6" width="2" height="1230" fill="url(#jo)"/><rect x="1282" y="-130.1" width="2" height="1230" fill="url(#jo)"/><rect x="1284" y="-144.2" width="2" height="1230" fill="url(#jo)"/><rect x="1286" y="-132.5" width="2" height="1230" fill="url(#jo)"/><rect x="1288" y="-124.3" width="2" height="1230" fill="url(#jo)"/><rect x="1290" y="-110.3" width="2" height="1230" fill="url(#jo)"/><rect x="1292" y="-123.3" width="2" height="1230" fill="url(#jo)"/><rect x="1294" y="-131.5" width="2" height="1230" fill="url(#jo)"/><rect x="1296" y="-135.2" width="2" height="1230" fill="url(#jo)"/><rect x="1298" y="-127.9" width="2" height="1230" fill="url(#jo)"/><rect x="1300" y="-108.4" width="2" height="1230" fill="url(#jo)"/><rect x="1302" y="-114.8" width="2" height="1230" fill="url(#jo)"/><rect x="1304" y="-125.4" width="2" height="1230" fill="url(#jo)"/><rect x="1306" y="-143.7" width="2" height="1230" fill="url(#jo)"/><rect x="1308" y="-132.5" width="2" height="1230" fill="url(#jo)"/><rect x="1310" y="-135.0" width="2" height="1230" fill="url(#jo)"/><rect x="1312" y="-106.6" width="2" height="1230" fill="url(#jo)"/><rect x="1314" y="-111.5" width="2" height="1230" fill="url(#jo)"/><rect x="1316" y="-125.7" width="2" height="1230" fill="url(#jo)"/><rect x="1318" y="-126.5" width="2" height="1230" fill="url(#jo)"/><rect x="1320" y="-122.5" width="2" height="1230" fill="url(#jo)"/><rect x="1322" y="-137.8" width="2" height="1230" fill="url(#jo)"/><rect x="1324" y="-135.9" width="2" height="1230" fill="url(#jo)"/><rect x="1326" y="-121.6" width="2" height="1230" fill="url(#jo)"/><rect x="1328" y="-104.8" width="2" height="1230" fill="url(#jo)"/><rect x="1330" y="-118.1" width="2" height="1230" fill="url(#jo)"/><rect x="1332" y="-124.4" width="2" height="1230" fill="url(#jo)"/><rect x="1334" y="-132.3" width="2" height="1230" fill="url(#jo)"/><rect x="1336" y="-130.2" width="2" height="1230" fill="url(#jo)"/><rect x="1338" y="-111.5" width="2" height="1230" fill="url(#jo)"/><rect x="1340" y="-136.1" width="2" height="1230" fill="url(#jo)"/><rect x="1342" y="-142.0" width="2" height="1230" fill="url(#jo)"/><rect x="1344" y="-136.4" width="2" height="1230" fill="url(#jo)"/><rect x="1346" y="-133.0" width="2" height="1230" fill="url(#jo)"/><rect x="1348" y="-114.7" width="2" height="1230" fill="url(#jo)"/><rect x="1350" y="-115.9" width="2" height="1230" fill="url(#jo)"/><rect x="1352" y="-125.6" width="2" height="1230" fill="url(#jo)"/><rect x="1354" y="-132.2" width="2" height="1230" fill="url(#jo)"/><rect x="1356" y="-137.2" width="2" height="1230" fill="url(#jo)"/><rect x="1358" y="-130.8" width="2" height="1230" fill="url(#jo)"/><rect x="1360" y="-116.9" width="2" height="1230" fill="url(#jo)"/><rect x="1362" y="-110.6" width="2" height="1230" fill="url(#jo)"/><rect x="1364" y="-129.8" width="2" height="1230" fill="url(#jo)"/><rect x="1366" y="-143.9" width="2" height="1230" fill="url(#jo)"/><rect x="1368" y="-135.3" width="2" height="1230" fill="url(#jo)"/><rect x="1370" y="-136.3" width="2" height="1230" fill="url(#jo)"/><rect x="1372" y="-130.6" width="2" height="1230" fill="url(#jo)"/><rect x="1374" y="-131.3" width="2" height="1230" fill="url(#jo)"/><rect x="1376" y="-120.3" width="2" height="1230" fill="url(#jo)"/><rect x="1378" y="-104.7" width="2" height="1230" fill="url(#jo)"/><rect x="1380" y="-121.4" width="2" height="1230" fill="url(#jo)"/><rect x="1382" y="-128.9" width="2" height="1230" fill="url(#jo)"/><rect x="1384" y="-134.4" width="2" height="1230" fill="url(#jo)"/><rect x="1386" y="-137.3" width="2" height="1230" fill="url(#jo)"/><rect x="1388" y="-114.4" width="2" height="1230" fill="url(#jo)"/><rect x="1390" y="-117.0" width="2" height="1230" fill="url(#jo)"/><rect x="1392" y="-121.4" width="2" height="1230" fill="url(#jo)"/><rect x="1394" y="-132.5" width="2" height="1230" fill="url(#jo)"/><rect x="1396" y="-135.7" width="2" height="1230" fill="url(#jo)"/><rect x="1398" y="-125.7" width="2" height="1230" fill="url(#jo)"/><rect x="1400" y="-118.2" width="2" height="1230" fill="url(#jo)"/><rect x="1402" y="-114.6" width="2" height="1230" fill="url(#jo)"/><rect x="1404" y="-143.0" width="2" height="1230" fill="url(#jo)"/><rect x="1406" y="-131.8" width="2" height="1230" fill="url(#jo)"/><rect x="1408" y="-135.9" width="2" height="1230" fill="url(#jo)"/><rect x="1410" y="-114.2" width="2" height="1230" fill="url(#jo)"/><rect x="1412" y="-108.0" width="2" height="1230" fill="url(#jo)"/><rect x="1414" y="-132.0" width="2" height="1230" fill="url(#jo)"/><rect x="1416" y="-141.1" width="2" height="1230" fill="url(#jo)"/><rect x="1418" y="-114.3" width="2" height="1230" fill="url(#jo)"/><rect x="1420" y="-132.2" width="2" height="1230" fill="url(#jo)"/><rect x="1422" y="-144.9" width="2" height="1230" fill="url(#jo)"/><rect x="1424" y="-136.2" width="2" height="1230" fill="url(#jo)"/><rect x="1426" y="-112.3" width="2" height="1230" fill="url(#jo)"/><rect x="1428" y="-117.7" width="2" height="1230" fill="url(#jo)"/><rect x="1430" y="-131.7" width="2" height="1230" fill="url(#jo)"/><rect x="1432" y="-136.9" width="2" height="1230" fill="url(#jo)"/><rect x="1434" y="-128.3" width="2" height="1230" fill="url(#jo)"/><rect x="1436" y="-110.1" width="2" height="1230" fill="url(#jo)"/><rect x="1438" y="-108.6" width="2" height="1230" fill="url(#jo)"/><rect x="1440" y="-129.9" width="2" height="1230" fill="url(#jo)"/><rect x="1442" y="-133.1" width="2" height="1230" fill="url(#jo)"/><rect x="1444" y="-140.7" width="2" height="1230" fill="url(#jo)"/><rect x="1446" y="-125.7" width="2" height="1230" fill="url(#jo)"/><rect x="1448" y="-126.3" width="2" height="1230" fill="url(#jo)"/><rect x="1450" y="-106.3" width="2" height="1230" fill="url(#jo)"/><rect x="1452" y="-131.8" width="2" height="1230" fill="url(#jo)"/><rect x="1454" y="-122.9" width="2" height="1230" fill="url(#jo)"/><rect x="1456" y="-125.6" width="2" height="1230" fill="url(#jo)"/><rect x="1458" y="-128.4" width="2" height="1230" fill="url(#jo)"/><rect x="1460" y="-114.7" width="2" height="1230" fill="url(#jo)"/><rect x="1462" y="-121.6" width="2" height="1230" fill="url(#jo)"/><rect x="1464" y="-125.9" width="2" height="1230" fill="url(#jo)"/><rect x="1466" y="-128.9" width="2" height="1230" fill="url(#jo)"/><rect x="1468" y="-110.1" width="2" height="1230" fill="url(#jo)"/><rect x="1470" y="-119.0" width="2" height="1230" fill="url(#jo)"/><rect x="1472" y="-119.7" width="2" height="1230" fill="url(#jo)"/><rect x="1474" y="-130.8" width="2" height="1230" fill="url(#jo)"/><rect x="1476" y="-114.6" width="2" height="1230" fill="url(#jo)"/><rect x="1478" y="-120.4" width="2" height="1230" fill="url(#jo)"/><rect x="1480" y="-126.9" width="2" height="1230" fill="url(#jo)"/></g></g>
<g stroke="#000" stroke-width="1" shape-rendering="crispEdges" fill="none">
<path d="M106.5,63V850M106,849.5H1525"/>
<path d="M106.5,850V834"/>
<path d="M247.5,850V834"/>
<path d="M389.5,850V834"/>
<path d="M531.5,850V834"/>
<path d="M673.5,850V834"/>
<path d="M815.5,850V834"/>
<path d="M956.5,850V834"/>
<path d="M1098.5,850V834"/>
<path d="M1240.5,850V834"/>
<path d="M1382.5,850V834"/>
<path d="M1523.5,850V834"/>
<path d="M106,849.5H120"/>
<path d="M106,718.5H120"/>
<path d="M106,588.5H120"/>
<path d="M106,457.5H120"/>
<path d="M106,326.5H120"/>
<path d="M106,195.5H120"/>
<path d="M106,64.5H120"/>
</g>
<text class="tk" x="106.3" y="868.3" text-anchor="middle">-5</text>
<text class="tk" x="247.3" y="868.3" text-anchor="middle">-4</text>
<text class="tk" x="389.3" y="868.3" text-anchor="middle">-3</text>
<text class="tk" x="531.3" y="868.3" text-anchor="middle">-2</text>
<text class="tk" x="673.3" y="868.3" text-anchor="middle">-1</text>
<text class="tk" x="815.3" y="868.3" text-anchor="middle">0</text>
<text class="tk" x="956.3" y="868.3" text-anchor="middle">1</text>
<text class="tk" x="1098.3" y="868.3" text-anchor="middle">2</text>
<text class="tk" x="1240.3" y="868.3" text-anchor="middle">3</text>
<text class="tk" x="1382.3" y="868.3" text-anchor="middle">4</text>
<text class="tk" x="1523.3" y="868.3" text-anchor="middle">5</text>
<text class="tk" x="101.5" y="855.7" text-anchor="end">-5</text>
<text class="tk" x="101.5" y="724.7" text-anchor="end">0</text>
<text class="tk" x="101.5" y="594.7" text-anchor="end">5</text>
<text class="tk" x="101.5" y="463.7" text-anchor="end">10</text>
<text class="tk" x="101.5" y="332.7" text-anchor="end">15</text>
<text class="tk" x="101.5" y="201.7" text-anchor="end">20</text>
<text class="tk" x="101.5" y="70.7" text-anchor="end">25</text>
<rect x="1545.5" y="62.5" width="27" height="786" fill="url(#jetcb)"/>
<g stroke="#000" stroke-width="1" shape-rendering="crispEdges" fill="none">
<rect x="1545.5" y="62.5" width="27" height="786"/>
<path d="M1545.5,740.5h6.5M1572.5,740.5h-8.5"/>
<path d="M1545.5,577.5h6.5M1572.5,577.5h-8.5"/>
<path d="M1545.5,414.5h6.5M1572.5,414.5h-8.5"/>
<path d="M1545.5,251.5h6.5M1572.5,251.5h-8.5"/>
<path d="M1545.5,87.5h6.5M1572.5,87.5h-8.5"/>
</g>
<text class="tk" x="1574.6" y="746.8">0</text>
<text class="tk" x="1574.6" y="583.8">5</text>
<text class="tk" x="1574.6" y="420.8">10</text>
<text class="tk" x="1574.6" y="257.8">15</text>
<text class="tk" x="1574.6" y="93.8">20</text>
<text class="ttl" x="813.3" y="49" text-anchor="middle">X-Z Plane View</text>
<text class="lab" x="802.6" y="894.5" font-size="25">x<tspan font-size="20.5" dy="13.3" dx="0.6">1</tspan></text>
<text class="lab" transform="translate(71.9,460.3) rotate(-90)" text-anchor="middle" letter-spacing="0.65">f(X)</text>
</svg></body></html>
